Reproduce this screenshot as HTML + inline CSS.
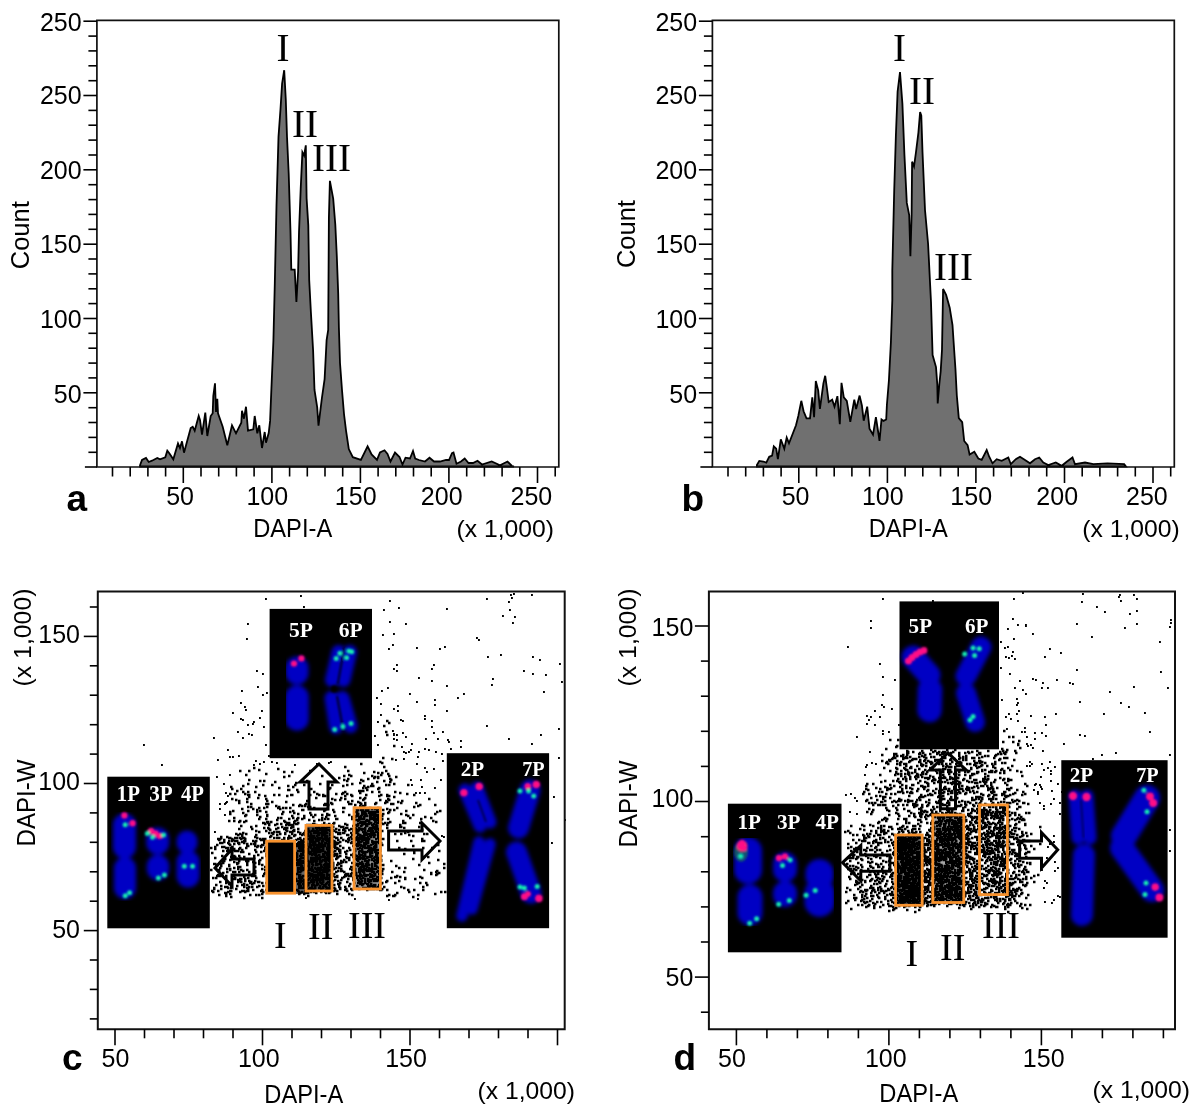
<!DOCTYPE html>
<html><head><meta charset="utf-8"><title>Figure</title>
<style>html,body{margin:0;padding:0;background:#fff;} svg{display:block;}</style></head>
<body><svg width="1200" height="1115" viewBox="0 0 1200 1115">
<rect width="1200" height="1115" fill="#fff"/>
<path d="M140 466.5 L140 465.3 L142 460 L146 458 L148.7 462 L152 460.7 L157.3 458 L160 459.3 L165.3 457.3 L167.3 450.7 L169.3 453.3 L173.3 459.3 L178 443.3 L180 448 L182 441.3 L184 452.7 L190.7 428 L192.7 426.7 L194.7 430.7 L198.7 416 L200 420 L202 434.7 L205.3 412.7 L207.3 436 L210.7 416 L212.7 413.3 L213.3 396 L215 383.3 L216 412 L217.3 398.7 L218 413.3 L222.7 426.7 L227.3 445.3 L232 425.3 L236 433.3 L241.3 422.7 L242 410.7 L244 418.7 L246 406.7 L248 430.7 L253.3 429.3 L254.7 416 L257.3 433.3 L259.3 425.3 L262 448 L264.7 432 L266 442.7 L268.7 433 L270.1 420.9 L271.4 388.6 L273.4 340.8 L274.8 283.4 L276.5 205 L278.5 136.8 L280.5 109 L282.1 83.7 L284.2 70.2 L285.8 99.8 L287 136.8 L288.7 173.5 L290.5 232.3 L291.3 269.7 L294.7 269.7 L296.4 302 L298.1 271.5 L299 232.3 L300.7 188.8 L302.4 152.2 L304.1 155.6 L305.8 145.3 L306.6 198.2 L308.3 225.4 L309.2 280 L310.9 312.4 L313.1 350.3 L314.5 390 L317.2 407.4 L318.5 425.6 L321.9 398 L324.6 379.2 L326.6 340.2 L328.2 330 L328.9 217.3 L329.9 180.8 L333.2 198.7 L335.3 224.5 L336.8 256 L338.2 293.4 L338.9 327.8 L340 363 L342 390 L344 414 L346 430.3 L348.8 449.1 L352.8 457.2 L360.9 459.9 L367.6 446.4 L371.6 454.5 L377 459.9 L380 452.5 L384.5 450.3 L387.5 454 L390.5 461.5 L395 452.5 L399.5 457 L402.5 464.5 L405.5 457.7 L410 458.5 L413 451 L415.2 458.5 L419 460 L425 461.5 L429.5 457.7 L434 461.5 L440 461.5 L446 460 L449 460 L452 453.2 L453.5 452.5 L456.5 463.7 L461 461.5 L464.7 458.5 L468.5 463 L473 463 L477.5 460.7 L482 464.5 L491.7 461.5 L500 465.2 L507.5 461.5 L512 466 L514 466.5 Z" fill="#707070" stroke="#000" stroke-width="1.8" stroke-linejoin="miter"/>
<path d="M96.9 20.3 H558.8 V467 H96.9 Z" fill="none" stroke="#111" stroke-width="1.7"/>
<line x1="83.4" y1="21.2" x2="96.9" y2="21.2" stroke="#000" stroke-width="1.6"/>
<line x1="88.4" y1="36.1" x2="96.9" y2="36.1" stroke="#000" stroke-width="1.6"/>
<line x1="88.4" y1="50.9" x2="96.9" y2="50.9" stroke="#000" stroke-width="1.6"/>
<line x1="88.4" y1="65.8" x2="96.9" y2="65.8" stroke="#000" stroke-width="1.6"/>
<line x1="88.4" y1="80.7" x2="96.9" y2="80.7" stroke="#000" stroke-width="1.6"/>
<line x1="83.4" y1="95.5" x2="96.9" y2="95.5" stroke="#000" stroke-width="1.6"/>
<line x1="88.4" y1="110.4" x2="96.9" y2="110.4" stroke="#000" stroke-width="1.6"/>
<line x1="88.4" y1="125.2" x2="96.9" y2="125.2" stroke="#000" stroke-width="1.6"/>
<line x1="88.4" y1="140.1" x2="96.9" y2="140.1" stroke="#000" stroke-width="1.6"/>
<line x1="88.4" y1="155" x2="96.9" y2="155" stroke="#000" stroke-width="1.6"/>
<line x1="83.4" y1="169.8" x2="96.9" y2="169.8" stroke="#000" stroke-width="1.6"/>
<line x1="88.4" y1="184.7" x2="96.9" y2="184.7" stroke="#000" stroke-width="1.6"/>
<line x1="88.4" y1="199.6" x2="96.9" y2="199.6" stroke="#000" stroke-width="1.6"/>
<line x1="88.4" y1="214.4" x2="96.9" y2="214.4" stroke="#000" stroke-width="1.6"/>
<line x1="88.4" y1="229.3" x2="96.9" y2="229.3" stroke="#000" stroke-width="1.6"/>
<line x1="83.4" y1="244.2" x2="96.9" y2="244.2" stroke="#000" stroke-width="1.6"/>
<line x1="88.4" y1="259" x2="96.9" y2="259" stroke="#000" stroke-width="1.6"/>
<line x1="88.4" y1="273.9" x2="96.9" y2="273.9" stroke="#000" stroke-width="1.6"/>
<line x1="88.4" y1="288.8" x2="96.9" y2="288.8" stroke="#000" stroke-width="1.6"/>
<line x1="88.4" y1="303.6" x2="96.9" y2="303.6" stroke="#000" stroke-width="1.6"/>
<line x1="83.4" y1="318.5" x2="96.9" y2="318.5" stroke="#000" stroke-width="1.6"/>
<line x1="88.4" y1="333.3" x2="96.9" y2="333.3" stroke="#000" stroke-width="1.6"/>
<line x1="88.4" y1="348.2" x2="96.9" y2="348.2" stroke="#000" stroke-width="1.6"/>
<line x1="88.4" y1="363.1" x2="96.9" y2="363.1" stroke="#000" stroke-width="1.6"/>
<line x1="88.4" y1="377.9" x2="96.9" y2="377.9" stroke="#000" stroke-width="1.6"/>
<line x1="83.4" y1="392.8" x2="96.9" y2="392.8" stroke="#000" stroke-width="1.6"/>
<line x1="88.4" y1="407.7" x2="96.9" y2="407.7" stroke="#000" stroke-width="1.6"/>
<line x1="88.4" y1="422.5" x2="96.9" y2="422.5" stroke="#000" stroke-width="1.6"/>
<line x1="88.4" y1="437.4" x2="96.9" y2="437.4" stroke="#000" stroke-width="1.6"/>
<line x1="88.4" y1="452.3" x2="96.9" y2="452.3" stroke="#000" stroke-width="1.6"/>
<line x1="112.5" y1="467" x2="112.5" y2="476.5" stroke="#000" stroke-width="1.6"/>
<line x1="130.2" y1="467" x2="130.2" y2="476.5" stroke="#000" stroke-width="1.6"/>
<line x1="147.9" y1="467" x2="147.9" y2="476.5" stroke="#000" stroke-width="1.6"/>
<line x1="165.6" y1="467" x2="165.6" y2="476.5" stroke="#000" stroke-width="1.6"/>
<line x1="183.3" y1="467" x2="183.3" y2="483" stroke="#000" stroke-width="1.6"/>
<line x1="201" y1="467" x2="201" y2="476.5" stroke="#000" stroke-width="1.6"/>
<line x1="218.7" y1="467" x2="218.7" y2="476.5" stroke="#000" stroke-width="1.6"/>
<line x1="236.4" y1="467" x2="236.4" y2="476.5" stroke="#000" stroke-width="1.6"/>
<line x1="254.1" y1="467" x2="254.1" y2="476.5" stroke="#000" stroke-width="1.6"/>
<line x1="271.9" y1="467" x2="271.9" y2="483" stroke="#000" stroke-width="1.6"/>
<line x1="289.6" y1="467" x2="289.6" y2="476.5" stroke="#000" stroke-width="1.6"/>
<line x1="307.3" y1="467" x2="307.3" y2="476.5" stroke="#000" stroke-width="1.6"/>
<line x1="325" y1="467" x2="325" y2="476.5" stroke="#000" stroke-width="1.6"/>
<line x1="342.7" y1="467" x2="342.7" y2="476.5" stroke="#000" stroke-width="1.6"/>
<line x1="360.4" y1="467" x2="360.4" y2="483" stroke="#000" stroke-width="1.6"/>
<line x1="378.1" y1="467" x2="378.1" y2="476.5" stroke="#000" stroke-width="1.6"/>
<line x1="395.8" y1="467" x2="395.8" y2="476.5" stroke="#000" stroke-width="1.6"/>
<line x1="413.5" y1="467" x2="413.5" y2="476.5" stroke="#000" stroke-width="1.6"/>
<line x1="431.2" y1="467" x2="431.2" y2="476.5" stroke="#000" stroke-width="1.6"/>
<line x1="448.9" y1="467" x2="448.9" y2="483" stroke="#000" stroke-width="1.6"/>
<line x1="466.7" y1="467" x2="466.7" y2="476.5" stroke="#000" stroke-width="1.6"/>
<line x1="484.4" y1="467" x2="484.4" y2="476.5" stroke="#000" stroke-width="1.6"/>
<line x1="502.1" y1="467" x2="502.1" y2="476.5" stroke="#000" stroke-width="1.6"/>
<line x1="519.8" y1="467" x2="519.8" y2="476.5" stroke="#000" stroke-width="1.6"/>
<line x1="537.5" y1="467" x2="537.5" y2="483" stroke="#000" stroke-width="1.6"/>
<line x1="555.2" y1="467" x2="555.2" y2="476.5" stroke="#000" stroke-width="1.6"/>
<line x1="84.9" y1="467" x2="96.9" y2="467" stroke="#000" stroke-width="1.6"/>
<text x="81.6" y="31.4" font-family="'Liberation Sans', Arial, sans-serif" font-size="25" font-weight="normal" fill="#000" text-anchor="end" >250</text>
<text x="81.6" y="104.4" font-family="'Liberation Sans', Arial, sans-serif" font-size="25" font-weight="normal" fill="#000" text-anchor="end" >250</text>
<text x="81.6" y="178.8" font-family="'Liberation Sans', Arial, sans-serif" font-size="25" font-weight="normal" fill="#000" text-anchor="end" >200</text>
<text x="81.6" y="253.2" font-family="'Liberation Sans', Arial, sans-serif" font-size="25" font-weight="normal" fill="#000" text-anchor="end" >150</text>
<text x="81.6" y="328" font-family="'Liberation Sans', Arial, sans-serif" font-size="25" font-weight="normal" fill="#000" text-anchor="end" >100</text>
<text x="81.6" y="403" font-family="'Liberation Sans', Arial, sans-serif" font-size="25" font-weight="normal" fill="#000" text-anchor="end" >50</text>
<text x="180.1" y="505.4" font-family="'Liberation Sans', Arial, sans-serif" font-size="25" font-weight="normal" fill="#000" text-anchor="middle" >50</text>
<text x="267.3" y="505.4" font-family="'Liberation Sans', Arial, sans-serif" font-size="25" font-weight="normal" fill="#000" text-anchor="middle" >100</text>
<text x="355.7" y="505.4" font-family="'Liberation Sans', Arial, sans-serif" font-size="25" font-weight="normal" fill="#000" text-anchor="middle" >150</text>
<text x="441.7" y="505.4" font-family="'Liberation Sans', Arial, sans-serif" font-size="25" font-weight="normal" fill="#000" text-anchor="middle" >200</text>
<text x="531.4" y="505.4" font-family="'Liberation Sans', Arial, sans-serif" font-size="25" font-weight="normal" fill="#000" text-anchor="middle" >250</text>
<text x="253.2" y="537.1" font-family="'Liberation Sans', Arial, sans-serif" font-size="25" font-weight="normal" fill="#000" text-anchor="start" textLength="79" lengthAdjust="spacingAndGlyphs">DAPI-A</text>
<text x="456.5" y="536.9" font-family="'Liberation Sans', Arial, sans-serif" font-size="24" font-weight="normal" fill="#000" text-anchor="start" textLength="97.5" lengthAdjust="spacingAndGlyphs">(x 1,000)</text>
<text transform="translate(29.3 269.2) rotate(-90)" font-family="'Liberation Sans', Arial, sans-serif" font-size="25.5" text-anchor="start" textLength="68" lengthAdjust="spacingAndGlyphs">Count</text>
<text x="276.5" y="61" font-family="'Liberation Serif', 'Times New Roman', serif" font-size="39" font-weight="normal" fill="#000" text-anchor="start" >I</text>
<text x="292" y="137.2" font-family="'Liberation Serif', 'Times New Roman', serif" font-size="39" font-weight="normal" fill="#000" text-anchor="start" >II</text>
<text x="312" y="171.3" font-family="'Liberation Serif', 'Times New Roman', serif" font-size="39" font-weight="normal" fill="#000" text-anchor="start" >III</text>
<text x="66.5" y="510.6" font-family="'Liberation Sans', Arial, sans-serif" font-size="37" font-weight="bold" fill="#000" text-anchor="start" >a</text>
<path d="M756.9 466.5 L756.9 465 L759.3 460.9 L763.3 461.5 L766.3 462.7 L769.2 456.8 L772.1 455.7 L773.8 446.3 L776.2 448.7 L777.9 459.2 L780.8 439.3 L784.3 448.7 L786.7 437.6 L789 443.4 L796 425.3 L798.3 416 L801.3 400.8 L803.6 411.3 L806.5 418.3 L810 418.3 L812.3 397.3 L814.1 417.2 L815.8 381 L818.2 390.3 L819.9 409 L823.4 383.3 L825.2 375.8 L826.9 388 L828.7 402 L832.2 399.7 L834.5 406.7 L837.4 396.2 L839.8 424.2 L841.5 382.8 L843.8 397.3 L846.8 400.8 L850.3 421.8 L854.3 399.7 L856.1 409 L859.6 395.6 L861.9 405.5 L863.7 420.7 L867.2 406.7 L869.5 428.8 L873 434.7 L875.9 417.2 L878.8 435.8 L879.5 441 L881.5 419.5 L883.5 420.9 L886.2 419.5 L886.9 404.7 L888.9 380.5 L890.9 342.2 L892.3 300 L892.3 270.7 L894.2 190.7 L895.9 135 L897.6 91.5 L900 72.1 L902.4 103.6 L904.4 154.4 L906.8 202.9 L909.2 215 L910.4 256.1 L911.6 215 L912.1 161.7 L914 166.5 L916 152 L918.4 132.6 L920.1 112 L921.3 115.7 L922.5 152 L925 210 L928.1 244 L931 302 L932.6 355 L936 367.1 L937.3 384.5 L937.7 403.4 L939.3 384.5 L940.7 371.1 L942 349.6 L943.1 289 L946.1 294.8 L949.7 307.7 L952.5 325 L953.5 340.2 L955.5 369.8 L956.8 395.3 L958.8 418.2 L962.2 422.2 L964.2 441 L967.6 445.1 L969.6 454.5 L974.3 451.8 L978.3 458.5 L981.7 459.9 L986.7 450 L989.2 456.7 L992.5 463.3 L996.7 459.2 L1001.7 460.8 L1008.3 457.5 L1010.8 464.2 L1015.8 459.2 L1020 456.7 L1025 460 L1030 463.3 L1035 459.2 L1039.2 457.5 L1043.3 462.5 L1048.3 465 L1055.8 462.5 L1061.7 465.8 L1066.7 461.7 L1072.5 457.5 L1075 464.2 L1085 462.5 L1093.3 464.2 L1107.5 463.3 L1124.2 464.2 L1126 466.5 Z" fill="#707070" stroke="#000" stroke-width="1.8" stroke-linejoin="miter"/>
<path d="M712.4 20.3 H1174.3 V467 H712.4 Z" fill="none" stroke="#111" stroke-width="1.7"/>
<line x1="698.9" y1="21.2" x2="712.4" y2="21.2" stroke="#000" stroke-width="1.6"/>
<line x1="703.9" y1="36.1" x2="712.4" y2="36.1" stroke="#000" stroke-width="1.6"/>
<line x1="703.9" y1="50.9" x2="712.4" y2="50.9" stroke="#000" stroke-width="1.6"/>
<line x1="703.9" y1="65.8" x2="712.4" y2="65.8" stroke="#000" stroke-width="1.6"/>
<line x1="703.9" y1="80.7" x2="712.4" y2="80.7" stroke="#000" stroke-width="1.6"/>
<line x1="698.9" y1="95.5" x2="712.4" y2="95.5" stroke="#000" stroke-width="1.6"/>
<line x1="703.9" y1="110.4" x2="712.4" y2="110.4" stroke="#000" stroke-width="1.6"/>
<line x1="703.9" y1="125.2" x2="712.4" y2="125.2" stroke="#000" stroke-width="1.6"/>
<line x1="703.9" y1="140.1" x2="712.4" y2="140.1" stroke="#000" stroke-width="1.6"/>
<line x1="703.9" y1="155" x2="712.4" y2="155" stroke="#000" stroke-width="1.6"/>
<line x1="698.9" y1="169.8" x2="712.4" y2="169.8" stroke="#000" stroke-width="1.6"/>
<line x1="703.9" y1="184.7" x2="712.4" y2="184.7" stroke="#000" stroke-width="1.6"/>
<line x1="703.9" y1="199.6" x2="712.4" y2="199.6" stroke="#000" stroke-width="1.6"/>
<line x1="703.9" y1="214.4" x2="712.4" y2="214.4" stroke="#000" stroke-width="1.6"/>
<line x1="703.9" y1="229.3" x2="712.4" y2="229.3" stroke="#000" stroke-width="1.6"/>
<line x1="698.9" y1="244.2" x2="712.4" y2="244.2" stroke="#000" stroke-width="1.6"/>
<line x1="703.9" y1="259" x2="712.4" y2="259" stroke="#000" stroke-width="1.6"/>
<line x1="703.9" y1="273.9" x2="712.4" y2="273.9" stroke="#000" stroke-width="1.6"/>
<line x1="703.9" y1="288.8" x2="712.4" y2="288.8" stroke="#000" stroke-width="1.6"/>
<line x1="703.9" y1="303.6" x2="712.4" y2="303.6" stroke="#000" stroke-width="1.6"/>
<line x1="698.9" y1="318.5" x2="712.4" y2="318.5" stroke="#000" stroke-width="1.6"/>
<line x1="703.9" y1="333.3" x2="712.4" y2="333.3" stroke="#000" stroke-width="1.6"/>
<line x1="703.9" y1="348.2" x2="712.4" y2="348.2" stroke="#000" stroke-width="1.6"/>
<line x1="703.9" y1="363.1" x2="712.4" y2="363.1" stroke="#000" stroke-width="1.6"/>
<line x1="703.9" y1="377.9" x2="712.4" y2="377.9" stroke="#000" stroke-width="1.6"/>
<line x1="698.9" y1="392.8" x2="712.4" y2="392.8" stroke="#000" stroke-width="1.6"/>
<line x1="703.9" y1="407.7" x2="712.4" y2="407.7" stroke="#000" stroke-width="1.6"/>
<line x1="703.9" y1="422.5" x2="712.4" y2="422.5" stroke="#000" stroke-width="1.6"/>
<line x1="703.9" y1="437.4" x2="712.4" y2="437.4" stroke="#000" stroke-width="1.6"/>
<line x1="703.9" y1="452.3" x2="712.4" y2="452.3" stroke="#000" stroke-width="1.6"/>
<line x1="728" y1="467" x2="728" y2="476.5" stroke="#000" stroke-width="1.6"/>
<line x1="745.7" y1="467" x2="745.7" y2="476.5" stroke="#000" stroke-width="1.6"/>
<line x1="763.4" y1="467" x2="763.4" y2="476.5" stroke="#000" stroke-width="1.6"/>
<line x1="781.1" y1="467" x2="781.1" y2="476.5" stroke="#000" stroke-width="1.6"/>
<line x1="798.8" y1="467" x2="798.8" y2="483" stroke="#000" stroke-width="1.6"/>
<line x1="816.5" y1="467" x2="816.5" y2="476.5" stroke="#000" stroke-width="1.6"/>
<line x1="834.2" y1="467" x2="834.2" y2="476.5" stroke="#000" stroke-width="1.6"/>
<line x1="851.9" y1="467" x2="851.9" y2="476.5" stroke="#000" stroke-width="1.6"/>
<line x1="869.6" y1="467" x2="869.6" y2="476.5" stroke="#000" stroke-width="1.6"/>
<line x1="887.4" y1="467" x2="887.4" y2="483" stroke="#000" stroke-width="1.6"/>
<line x1="905.1" y1="467" x2="905.1" y2="476.5" stroke="#000" stroke-width="1.6"/>
<line x1="922.8" y1="467" x2="922.8" y2="476.5" stroke="#000" stroke-width="1.6"/>
<line x1="940.5" y1="467" x2="940.5" y2="476.5" stroke="#000" stroke-width="1.6"/>
<line x1="958.2" y1="467" x2="958.2" y2="476.5" stroke="#000" stroke-width="1.6"/>
<line x1="975.9" y1="467" x2="975.9" y2="483" stroke="#000" stroke-width="1.6"/>
<line x1="993.6" y1="467" x2="993.6" y2="476.5" stroke="#000" stroke-width="1.6"/>
<line x1="1011.3" y1="467" x2="1011.3" y2="476.5" stroke="#000" stroke-width="1.6"/>
<line x1="1029" y1="467" x2="1029" y2="476.5" stroke="#000" stroke-width="1.6"/>
<line x1="1046.7" y1="467" x2="1046.7" y2="476.5" stroke="#000" stroke-width="1.6"/>
<line x1="1064.5" y1="467" x2="1064.5" y2="483" stroke="#000" stroke-width="1.6"/>
<line x1="1082.2" y1="467" x2="1082.2" y2="476.5" stroke="#000" stroke-width="1.6"/>
<line x1="1099.9" y1="467" x2="1099.9" y2="476.5" stroke="#000" stroke-width="1.6"/>
<line x1="1117.6" y1="467" x2="1117.6" y2="476.5" stroke="#000" stroke-width="1.6"/>
<line x1="1135.3" y1="467" x2="1135.3" y2="476.5" stroke="#000" stroke-width="1.6"/>
<line x1="1153" y1="467" x2="1153" y2="483" stroke="#000" stroke-width="1.6"/>
<line x1="1170.7" y1="467" x2="1170.7" y2="476.5" stroke="#000" stroke-width="1.6"/>
<line x1="700.4" y1="467" x2="712.4" y2="467" stroke="#000" stroke-width="1.6"/>
<text x="697.1" y="31.4" font-family="'Liberation Sans', Arial, sans-serif" font-size="25" font-weight="normal" fill="#000" text-anchor="end" >250</text>
<text x="697.1" y="104.4" font-family="'Liberation Sans', Arial, sans-serif" font-size="25" font-weight="normal" fill="#000" text-anchor="end" >250</text>
<text x="697.1" y="178.8" font-family="'Liberation Sans', Arial, sans-serif" font-size="25" font-weight="normal" fill="#000" text-anchor="end" >200</text>
<text x="697.1" y="253.2" font-family="'Liberation Sans', Arial, sans-serif" font-size="25" font-weight="normal" fill="#000" text-anchor="end" >150</text>
<text x="697.1" y="328" font-family="'Liberation Sans', Arial, sans-serif" font-size="25" font-weight="normal" fill="#000" text-anchor="end" >100</text>
<text x="697.1" y="403" font-family="'Liberation Sans', Arial, sans-serif" font-size="25" font-weight="normal" fill="#000" text-anchor="end" >50</text>
<text x="795.6" y="505.4" font-family="'Liberation Sans', Arial, sans-serif" font-size="25" font-weight="normal" fill="#000" text-anchor="middle" >50</text>
<text x="882.8" y="505.4" font-family="'Liberation Sans', Arial, sans-serif" font-size="25" font-weight="normal" fill="#000" text-anchor="middle" >100</text>
<text x="971.2" y="505.4" font-family="'Liberation Sans', Arial, sans-serif" font-size="25" font-weight="normal" fill="#000" text-anchor="middle" >150</text>
<text x="1057.2" y="505.4" font-family="'Liberation Sans', Arial, sans-serif" font-size="25" font-weight="normal" fill="#000" text-anchor="middle" >200</text>
<text x="1146.9" y="505.4" font-family="'Liberation Sans', Arial, sans-serif" font-size="25" font-weight="normal" fill="#000" text-anchor="middle" >250</text>
<text x="868.7" y="537.1" font-family="'Liberation Sans', Arial, sans-serif" font-size="25" font-weight="normal" fill="#000" text-anchor="start" textLength="79" lengthAdjust="spacingAndGlyphs">DAPI-A</text>
<text x="1082.3" y="536.9" font-family="'Liberation Sans', Arial, sans-serif" font-size="24" font-weight="normal" fill="#000" text-anchor="start" textLength="97.5" lengthAdjust="spacingAndGlyphs">(x 1,000)</text>
<text transform="translate(634.6 268.1) rotate(-90)" font-family="'Liberation Sans', Arial, sans-serif" font-size="25.5" text-anchor="start" textLength="68" lengthAdjust="spacingAndGlyphs">Count</text>
<text x="893.1" y="61.2" font-family="'Liberation Serif', 'Times New Roman', serif" font-size="39" font-weight="normal" fill="#000" text-anchor="start" >I</text>
<text x="909" y="104.4" font-family="'Liberation Serif', 'Times New Roman', serif" font-size="39" font-weight="normal" fill="#000" text-anchor="start" >II</text>
<text x="934" y="279.8" font-family="'Liberation Serif', 'Times New Roman', serif" font-size="39" font-weight="normal" fill="#000" text-anchor="start" >III</text>
<text x="681.5" y="510.6" font-family="'Liberation Sans', Arial, sans-serif" font-size="37" font-weight="bold" fill="#000" text-anchor="start" >b</text>
<defs><filter id="bl" x="-20%" y="-20%" width="140%" height="140%"><feGaussianBlur stdDeviation="2.1"/></filter><filter id="bs" x="-50%" y="-50%" width="200%" height="200%"><feGaussianBlur stdDeviation="1.1"/></filter></defs>
<rect x="266" y="841" width="30" height="53" fill="#000"/>
<rect x="296" y="846" width="9" height="48" fill="#000" opacity="0.6"/>
<rect x="306" y="826" width="26" height="65" fill="#000" opacity="0.7"/>
<rect x="355" y="809" width="25" height="80" fill="#000" opacity="0.4"/>
<path d="M510 595h1.9M513 594h1.9M300 596h1.9M531 595h1.9M511 598h1.9M265 599h1.9M486 599h1.9M389 601h1.9M508 602h1.9M303 607h1.9M398 608h1.9M383 610h1.9M446 609h1.9M509 610h1.9M502 616h1.9M514 617h1.9M389 622h1.9M247 624h1.9M512 623h1.9M405 624h1.9M393 634h1.9M382 635h1.9M246 639h1.9M476 638h1.9M478 640h1.9M392 645h1.9M416 648h1.9M444 647h1.9M388 649h1.9M439 649h1.9M500 655h1.9M532 657h1.9M487 657h1.9M539 660h1.9M396 665h1.9M559 664h1.9M433 665h1.9M393 669h1.9M431 669h1.9M396 671h1.9M523 671h1.9M256 671h1.9M262 674h1.9M532 674h1.9M545 675h1.9M418 678h1.9M492 679h1.9M431 681h1.9M561 682h1.9M446 686h1.9M491 685h1.9M257 687h1.9M387 688h1.9M381 691h1.9M241 691h1.9M543 692h1.9M266 693h1.9M262 695h1.9M409 694h1.9M463 694h1.9M376 698h1.9M457 698h1.9M434 700h1.9M416 702h1.9M240 703h1.9M380 704h1.9M434 705h1.9M397 706h1.9M244 707h1.9M393 709h1.9M245 710h1.9M261 711h1.9M397 711h1.9M446 711h1.9M232 713h1.9M380 715h1.9M424 716h1.9M259 718h1.9M240 719h1.9M424 719h1.9M242 720h1.9M400 720h1.9M431 721h1.9M253 722h1.9M402 721h1.9M377 722h1.9M252 724h1.9M247 725h1.9M431 727h1.9M486 726h1.9M263 727h1.9M558 729h1.9M392 731h1.9M442 732h1.9M237 732h1.9M402 733h1.9M393 734h1.9M433 733h1.9M248 734h1.9M393 735h1.9M396 735h1.9M251 735h1.9M374 736h1.9M540 735h1.9M405 737h1.9M213 738h1.9M242 738h1.9M393 739h1.9M508 739h1.9M425 739h1.9M437 739h1.9M396 740h1.9M447 740h1.9M460 741h1.9M448 742h1.9M411 744h1.9M531 744h1.9M143 745h1.9M265 745h1.9M377 745h1.9M460 747h1.9M401 747h1.9M424 749h1.9M450 749h1.9M410 750h1.9M428 750h1.9M227 750h1.9M418 752h1.9M403 752h1.9M408 752h1.9M435 752h1.9M405 753h1.9M441 754h1.9M238 756h1.9M268 756h1.9M232 757h1.9M229 757h1.9M417 757h1.9M558 758h1.9M395 760h1.9M403 759h1.9M217 760h1.9M255 761h1.9M263 762h1.9M271 762h1.9M442 761h1.9M328 763h1.9M330 762h1.9M259 764h1.9M276 763h1.9M316 764h1.9M416 764h1.9M161 765h1.9M253 765h1.9M294 765h1.9M424 768h1.9M433 769h1.9M426 772h1.9M229 775h1.9M216 777h1.9M420 780h1.9M440 780h1.9M410 780h1.9M223 784h1.9M411 785h1.9M421 787h1.9M434 788h1.9M434 788h1.9M225 793h1.9M415 793h1.9M419 793h1.9M424 793h1.9M227 796h1.9M553 797h1.9M226 802h1.9M225 803h1.9M219 804h1.9M224 804h1.9M219 809h1.9M224 815h1.9M564 820h1.9M214 832h1.9M441 836h1.9M443 837h1.9M551 843h1.9M274 853h1.9M277 853h1.9M274 854h1.9M270 875h1.9M271 886h1.9M289 886h1.9M270 891h1.9M305 898h1.9M354 899h1.9M388 900h1.9M417 899h1.9" stroke="#000" stroke-width="1.9" fill="none"/><path d="M386 721h2.5M388 723h2.5M383 726h2.5M385 732h2.5M386 735h2.5M393 746h2.5M382 758h2.5M391 759h2.5M379 762h2.5M381 763h2.5M360 764h2.5M383 767h2.5M253 768h2.5M344 767h2.5M277 769h2.5M258 770h2.5M347 771h2.5M385 771h2.5M239 771h2.5M248 771h2.5M291 772h2.5M309 771h2.5M373 772h2.5M283 772h2.5M363 773h2.5M377 773h2.5M381 773h2.5M387 774h2.5M245 775h2.5M265 774h2.5M288 776h2.5M343 776h2.5M348 775h2.5M371 776h2.5M380 775h2.5M321 776h2.5M350 776h2.5M388 776h2.5M395 777h2.5M283 777h2.5M338 778h2.5M373 778h2.5M374 777h2.5M377 777h2.5M377 778h2.5M367 779h2.5M389 779h2.5M343 780h2.5M347 779h2.5M248 780h2.5M360 780h2.5M362 781h2.5M390 780h2.5M259 781h2.5M263 781h2.5M306 781h2.5M346 781h2.5M383 781h2.5M389 782h2.5M274 782h2.5M295 783h2.5M376 782h2.5M359 783h2.5M371 784h2.5M247 784h2.5M271 785h2.5M319 784h2.5M327 784h2.5M331 785h2.5M346 785h2.5M351 784h2.5M393 784h2.5M242 786h2.5M262 785h2.5M294 785h2.5M303 785h2.5M342 786h2.5M372 786h2.5M385 785h2.5M388 785h2.5M407 785h2.5M230 787h2.5M255 787h2.5M287 786h2.5M292 787h2.5M363 786h2.5M367 787h2.5M370 786h2.5M329 788h2.5M362 788h2.5M231 789h2.5M240 789h2.5M278 788h2.5M310 789h2.5M328 789h2.5M365 788h2.5M378 788h2.5M296 790h2.5M377 789h2.5M287 790h2.5M288 790h2.5M358 791h2.5M360 791h2.5M362 791h2.5M366 790h2.5M236 791h2.5M242 792h2.5M247 792h2.5M254 792h2.5M297 792h2.5M358 791h2.5M394 792h2.5M313 792h2.5M342 793h2.5M344 792h2.5M359 793h2.5M371 792h2.5M378 792h2.5M399 793h2.5M234 794h2.5M346 794h2.5M406 794h2.5M229 794h2.5M244 794h2.5M248 795h2.5M258 795h2.5M278 795h2.5M291 795h2.5M316 794h2.5M335 794h2.5M341 794h2.5M350 795h2.5M365 795h2.5M413 795h2.5M247 795h2.5M264 796h2.5M273 795h2.5M290 795h2.5M309 795h2.5M318 795h2.5M322 795h2.5M324 796h2.5M344 796h2.5M380 795h2.5M386 795h2.5M286 796h2.5M322 796h2.5M324 796h2.5M351 796h2.5M378 796h2.5M386 796h2.5M388 796h2.5M393 797h2.5M248 797h2.5M257 798h2.5M315 798h2.5M340 798h2.5M359 798h2.5M331 799h2.5M364 798h2.5M387 799h2.5M428 799h2.5M231 799h2.5M246 799h2.5M265 799h2.5M334 800h2.5M344 799h2.5M362 800h2.5M363 799h2.5M388 800h2.5M235 800h2.5M238 801h2.5M306 801h2.5M334 800h2.5M339 800h2.5M379 800h2.5M385 801h2.5M401 801h2.5M266 801h2.5M285 802h2.5M347 802h2.5M351 801h2.5M357 802h2.5M238 803h2.5M246 802h2.5M271 802h2.5M359 803h2.5M364 803h2.5M375 803h2.5M386 802h2.5M397 802h2.5M400 803h2.5M250 804h2.5M265 804h2.5M305 804h2.5M324 804h2.5M326 804h2.5M330 803h2.5M331 804h2.5M348 804h2.5M360 804h2.5M384 803h2.5M390 804h2.5M415 803h2.5M267 804h2.5M299 805h2.5M304 805h2.5M350 804h2.5M374 804h2.5M392 804h2.5M275 806h2.5M275 806h2.5M292 805h2.5M304 806h2.5M323 805h2.5M325 805h2.5M327 805h2.5M354 805h2.5M364 805h2.5M417 806h2.5M419 805h2.5M434 805h2.5M247 807h2.5M266 807h2.5M298 806h2.5M301 806h2.5M307 807h2.5M309 807h2.5M359 806h2.5M362 807h2.5M362 806h2.5M363 807h2.5M250 807h2.5M263 808h2.5M278 808h2.5M278 807h2.5M282 808h2.5M289 808h2.5M313 808h2.5M343 808h2.5M353 808h2.5M360 807h2.5M413 807h2.5M258 808h2.5M277 808h2.5M285 808h2.5M308 808h2.5M342 808h2.5M356 809h2.5M360 809h2.5M365 809h2.5M369 808h2.5M371 809h2.5M374 809h2.5M377 808h2.5M386 809h2.5M396 808h2.5M241 809h2.5M252 809h2.5M279 809h2.5M301 810h2.5M324 810h2.5M326 809h2.5M353 809h2.5M357 810h2.5M362 809h2.5M365 809h2.5M367 810h2.5M371 809h2.5M376 809h2.5M377 809h2.5M377 809h2.5M393 810h2.5M256 810h2.5M302 810h2.5M332 810h2.5M360 810h2.5M362 810h2.5M365 811h2.5M367 811h2.5M376 811h2.5M382 810h2.5M389 810h2.5M439 811h2.5M229 812h2.5M232 811h2.5M247 811h2.5M259 811h2.5M265 812h2.5M282 812h2.5M289 812h2.5M292 811h2.5M323 811h2.5M342 812h2.5M355 812h2.5M356 811h2.5M361 812h2.5M363 812h2.5M364 812h2.5M369 812h2.5M371 812h2.5M373 812h2.5M374 812h2.5M376 812h2.5M377 812h2.5M405 811h2.5M436 812h2.5M256 812h2.5M293 813h2.5M333 812h2.5M356 812h2.5M368 812h2.5M368 813h2.5M369 812h2.5M372 813h2.5M374 812h2.5M375 812h2.5M378 812h2.5M388 812h2.5M229 814h2.5M242 813h2.5M309 813h2.5M356 814h2.5M361 814h2.5M363 814h2.5M368 813h2.5M369 814h2.5M370 813h2.5M374 814h2.5M382 814h2.5M387 813h2.5M400 814h2.5M434 814h2.5M245 815h2.5M256 815h2.5M266 815h2.5M281 814h2.5M297 814h2.5M310 815h2.5M326 814h2.5M348 815h2.5M356 814h2.5M357 814h2.5M357 815h2.5M361 815h2.5M365 814h2.5M370 815h2.5M374 814h2.5M376 815h2.5M378 815h2.5M405 815h2.5M291 816h2.5M314 815h2.5M321 815h2.5M326 815h2.5M328 815h2.5M354 816h2.5M360 816h2.5M364 816h2.5M366 816h2.5M372 815h2.5M375 815h2.5M379 815h2.5M381 816h2.5M412 815h2.5M244 816h2.5M259 817h2.5M266 816h2.5M303 816h2.5M312 817h2.5M334 816h2.5M356 816h2.5M369 816h2.5M370 817h2.5M374 816h2.5M375 816h2.5M377 817h2.5M381 816h2.5M407 816h2.5M424 817h2.5M277 818h2.5M280 818h2.5M292 818h2.5M325 817h2.5M351 817h2.5M354 817h2.5M358 817h2.5M358 817h2.5M360 818h2.5M363 817h2.5M369 817h2.5M371 818h2.5M372 818h2.5M373 817h2.5M374 817h2.5M378 817h2.5M379 817h2.5M409 818h2.5M233 818h2.5M265 819h2.5M288 819h2.5M297 818h2.5M303 818h2.5M321 818h2.5M324 819h2.5M327 819h2.5M335 819h2.5M336 819h2.5M351 819h2.5M358 818h2.5M360 818h2.5M369 818h2.5M371 819h2.5M372 818h2.5M374 818h2.5M377 818h2.5M387 819h2.5M430 818h2.5M258 819h2.5M288 819h2.5M296 819h2.5M296 820h2.5M301 819h2.5M318 820h2.5M324 819h2.5M355 820h2.5M357 820h2.5M360 819h2.5M361 819h2.5M363 819h2.5M366 820h2.5M369 819h2.5M371 819h2.5M376 819h2.5M376 820h2.5M381 819h2.5M420 819h2.5M239 821h2.5M276 820h2.5M308 820h2.5M313 821h2.5M321 820h2.5M358 820h2.5M366 821h2.5M366 820h2.5M368 821h2.5M373 820h2.5M374 820h2.5M378 820h2.5M380 820h2.5M432 821h2.5M228 821h2.5M233 821h2.5M243 822h2.5M245 821h2.5M267 822h2.5M283 821h2.5M284 822h2.5M293 822h2.5M294 821h2.5M357 821h2.5M361 822h2.5M363 822h2.5M365 821h2.5M375 822h2.5M378 822h2.5M402 821h2.5M435 822h2.5M238 822h2.5M262 823h2.5M266 822h2.5M270 822h2.5M286 823h2.5M288 823h2.5M297 823h2.5M333 823h2.5M359 823h2.5M360 822h2.5M362 823h2.5M363 823h2.5M368 822h2.5M374 822h2.5M376 823h2.5M377 823h2.5M387 823h2.5M389 822h2.5M263 823h2.5M267 823h2.5M268 824h2.5M293 823h2.5M313 824h2.5M323 823h2.5M328 824h2.5M357 824h2.5M360 823h2.5M364 823h2.5M368 824h2.5M370 823h2.5M373 824h2.5M380 823h2.5M384 823h2.5M402 823h2.5M404 823h2.5M419 823h2.5M264 824h2.5M268 825h2.5M274 825h2.5M276 824h2.5M280 824h2.5M287 824h2.5M288 825h2.5M290 825h2.5M292 825h2.5M295 824h2.5M296 824h2.5M310 825h2.5M312 824h2.5M315 825h2.5M321 825h2.5M326 825h2.5M332 824h2.5M344 824h2.5M346 825h2.5M355 825h2.5M361 825h2.5M363 824h2.5M364 824h2.5M366 824h2.5M367 824h2.5M371 825h2.5M372 825h2.5M375 825h2.5M382 824h2.5M386 825h2.5M285 825h2.5M292 825h2.5M306 825h2.5M308 825h2.5M312 825h2.5M322 826h2.5M338 826h2.5M356 826h2.5M357 825h2.5M360 826h2.5M365 825h2.5M366 826h2.5M376 826h2.5M379 826h2.5M399 825h2.5M240 826h2.5M255 826h2.5M281 827h2.5M292 827h2.5M318 827h2.5M326 827h2.5M328 827h2.5M331 827h2.5M332 827h2.5M342 827h2.5M352 826h2.5M365 826h2.5M372 827h2.5M374 827h2.5M400 827h2.5M418 827h2.5M250 827h2.5M263 828h2.5M267 828h2.5M284 828h2.5M286 828h2.5M290 828h2.5M291 827h2.5M315 828h2.5M316 828h2.5M321 827h2.5M323 828h2.5M325 828h2.5M340 827h2.5M345 828h2.5M358 828h2.5M364 828h2.5M371 828h2.5M372 828h2.5M376 828h2.5M399 827h2.5M403 828h2.5M251 829h2.5M275 829h2.5M277 828h2.5M283 829h2.5M297 829h2.5M306 829h2.5M318 828h2.5M320 829h2.5M321 829h2.5M323 829h2.5M324 828h2.5M335 829h2.5M346 828h2.5M350 829h2.5M352 829h2.5M354 828h2.5M358 829h2.5M360 829h2.5M363 829h2.5M364 828h2.5M368 829h2.5M369 828h2.5M370 828h2.5M374 829h2.5M376 829h2.5M378 829h2.5M386 828h2.5M238 829h2.5M268 829h2.5M269 830h2.5M307 830h2.5M307 829h2.5M312 829h2.5M312 829h2.5M316 829h2.5M322 829h2.5M324 830h2.5M325 829h2.5M328 830h2.5M332 830h2.5M338 830h2.5M343 829h2.5M353 830h2.5M354 830h2.5M355 829h2.5M356 830h2.5M358 830h2.5M361 829h2.5M361 830h2.5M364 830h2.5M371 830h2.5M371 829h2.5M375 829h2.5M376 829h2.5M378 830h2.5M265 831h2.5M269 830h2.5M285 830h2.5M286 831h2.5M292 831h2.5M293 830h2.5M305 831h2.5M308 831h2.5M311 831h2.5M312 831h2.5M315 831h2.5M319 830h2.5M323 831h2.5M325 831h2.5M327 830h2.5M332 830h2.5M333 831h2.5M342 830h2.5M344 831h2.5M348 830h2.5M352 831h2.5M355 831h2.5M356 830h2.5M357 831h2.5M369 831h2.5M370 830h2.5M371 831h2.5M372 831h2.5M375 831h2.5M381 831h2.5M421 830h2.5M255 831h2.5M273 832h2.5M278 832h2.5M293 831h2.5M304 831h2.5M305 832h2.5M307 831h2.5M309 832h2.5M313 831h2.5M315 831h2.5M316 832h2.5M317 831h2.5M321 831h2.5M323 832h2.5M324 832h2.5M329 831h2.5M330 832h2.5M354 831h2.5M356 832h2.5M362 832h2.5M364 832h2.5M367 831h2.5M371 832h2.5M372 831h2.5M376 832h2.5M242 833h2.5M258 832h2.5M268 833h2.5M276 832h2.5M289 832h2.5M290 832h2.5M297 832h2.5M303 833h2.5M308 832h2.5M313 833h2.5M314 833h2.5M315 833h2.5M316 833h2.5M317 833h2.5M321 833h2.5M321 833h2.5M335 832h2.5M337 833h2.5M338 833h2.5M339 833h2.5M342 833h2.5M350 833h2.5M355 833h2.5M365 833h2.5M370 832h2.5M375 832h2.5M376 832h2.5M379 833h2.5M379 833h2.5M407 832h2.5M239 834h2.5M245 834h2.5M271 833h2.5M279 834h2.5M284 833h2.5M291 833h2.5M291 834h2.5M299 833h2.5M304 834h2.5M313 833h2.5M316 833h2.5M317 834h2.5M319 833h2.5M320 833h2.5M322 833h2.5M324 834h2.5M326 833h2.5M326 833h2.5M329 834h2.5M330 834h2.5M339 834h2.5M343 833h2.5M357 834h2.5M367 834h2.5M367 834h2.5M369 834h2.5M370 834h2.5M371 833h2.5M373 833h2.5M377 833h2.5M400 834h2.5M404 833h2.5M235 834h2.5M237 835h2.5M272 834h2.5M284 834h2.5M294 835h2.5M299 834h2.5M302 834h2.5M304 835h2.5M305 835h2.5M307 834h2.5M310 834h2.5M317 835h2.5M324 834h2.5M329 835h2.5M331 834h2.5M337 834h2.5M351 835h2.5M359 835h2.5M363 834h2.5M366 834h2.5M366 835h2.5M372 835h2.5M373 834h2.5M374 835h2.5M377 835h2.5M379 834h2.5M394 834h2.5M408 835h2.5M423 834h2.5M426 834h2.5M241 835h2.5M255 835h2.5M270 836h2.5M276 835h2.5M288 836h2.5M301 835h2.5M308 836h2.5M310 836h2.5M316 836h2.5M318 835h2.5M321 835h2.5M323 835h2.5M324 835h2.5M324 835h2.5M326 836h2.5M331 836h2.5M346 835h2.5M347 835h2.5M357 835h2.5M359 836h2.5M362 836h2.5M364 835h2.5M377 836h2.5M377 836h2.5M379 836h2.5M379 836h2.5M241 836h2.5M293 836h2.5M305 837h2.5M307 836h2.5M312 836h2.5M312 836h2.5M313 836h2.5M316 836h2.5M321 837h2.5M324 837h2.5M325 837h2.5M325 836h2.5M326 836h2.5M331 837h2.5M331 837h2.5M359 837h2.5M360 836h2.5M363 836h2.5M367 837h2.5M369 836h2.5M370 836h2.5M412 836h2.5M220 837h2.5M226 837h2.5M228 838h2.5M229 838h2.5M234 838h2.5M236 838h2.5M239 838h2.5M243 838h2.5M254 837h2.5M269 837h2.5M283 838h2.5M287 838h2.5M288 838h2.5M299 838h2.5M310 837h2.5M313 837h2.5M317 838h2.5M318 838h2.5M318 838h2.5M324 837h2.5M325 838h2.5M326 837h2.5M333 837h2.5M348 838h2.5M350 837h2.5M356 837h2.5M360 838h2.5M362 838h2.5M363 837h2.5M364 838h2.5M370 837h2.5M373 837h2.5M377 837h2.5M378 838h2.5M217 839h2.5M219 839h2.5M220 838h2.5M231 839h2.5M242 838h2.5M256 838h2.5M259 839h2.5M273 838h2.5M276 838h2.5M278 838h2.5M290 838h2.5M298 839h2.5M303 839h2.5M309 838h2.5M310 839h2.5M311 838h2.5M313 838h2.5M314 838h2.5M315 839h2.5M317 839h2.5M318 839h2.5M320 838h2.5M326 838h2.5M327 839h2.5M329 838h2.5M335 838h2.5M336 838h2.5M340 838h2.5M347 839h2.5M353 839h2.5M354 838h2.5M355 838h2.5M357 839h2.5M357 838h2.5M359 839h2.5M361 839h2.5M365 838h2.5M365 839h2.5M368 839h2.5M375 839h2.5M377 838h2.5M382 839h2.5M421 839h2.5M218 840h2.5M231 839h2.5M240 839h2.5M244 839h2.5M262 839h2.5M262 840h2.5M264 839h2.5M281 840h2.5M283 840h2.5M287 839h2.5M295 840h2.5M297 839h2.5M307 839h2.5M309 840h2.5M315 840h2.5M316 840h2.5M318 840h2.5M319 839h2.5M322 839h2.5M324 839h2.5M325 840h2.5M328 840h2.5M331 840h2.5M342 840h2.5M351 839h2.5M354 840h2.5M355 839h2.5M356 840h2.5M358 840h2.5M362 839h2.5M363 839h2.5M366 839h2.5M381 839h2.5M223 840h2.5M232 840h2.5M243 841h2.5M260 840h2.5M263 841h2.5M264 840h2.5M300 840h2.5M301 841h2.5M302 841h2.5M309 841h2.5M311 841h2.5M312 840h2.5M318 840h2.5M322 841h2.5M330 840h2.5M337 840h2.5M342 840h2.5M345 841h2.5M348 840h2.5M361 840h2.5M361 841h2.5M362 840h2.5M364 840h2.5M366 840h2.5M371 841h2.5M378 840h2.5M396 841h2.5M410 841h2.5M421 841h2.5M423 841h2.5M223 842h2.5M228 841h2.5M231 841h2.5M234 841h2.5M236 841h2.5M244 841h2.5M252 841h2.5M255 841h2.5M269 841h2.5M271 841h2.5M276 842h2.5M287 842h2.5M293 841h2.5M300 842h2.5M305 842h2.5M310 842h2.5M311 842h2.5M312 841h2.5M316 841h2.5M317 841h2.5M321 841h2.5M326 841h2.5M328 841h2.5M328 842h2.5M330 842h2.5M333 841h2.5M333 842h2.5M334 842h2.5M351 842h2.5M352 842h2.5M353 841h2.5M359 842h2.5M360 842h2.5M365 841h2.5M367 841h2.5M371 842h2.5M373 842h2.5M374 842h2.5M376 842h2.5M221 843h2.5M227 843h2.5M237 843h2.5M238 843h2.5M241 842h2.5M254 842h2.5M263 843h2.5M270 843h2.5M279 842h2.5M288 842h2.5M298 842h2.5M300 843h2.5M304 842h2.5M309 843h2.5M311 842h2.5M312 843h2.5M314 842h2.5M318 843h2.5M321 843h2.5M321 842h2.5M324 843h2.5M325 843h2.5M330 842h2.5M337 843h2.5M339 842h2.5M347 842h2.5M351 843h2.5M357 842h2.5M358 843h2.5M359 842h2.5M363 843h2.5M364 843h2.5M366 843h2.5M367 843h2.5M373 843h2.5M373 843h2.5M375 842h2.5M376 842h2.5M377 842h2.5M378 843h2.5M379 843h2.5M219 843h2.5M221 843h2.5M228 844h2.5M238 844h2.5M243 843h2.5M246 844h2.5M250 844h2.5M254 844h2.5M275 843h2.5M295 844h2.5M297 843h2.5M300 844h2.5M302 843h2.5M306 844h2.5M314 844h2.5M328 843h2.5M333 843h2.5M335 843h2.5M350 843h2.5M350 843h2.5M353 843h2.5M356 844h2.5M363 844h2.5M366 843h2.5M375 843h2.5M380 843h2.5M216 845h2.5M233 844h2.5M253 844h2.5M269 844h2.5M281 844h2.5M296 845h2.5M298 844h2.5M298 844h2.5M300 845h2.5M301 844h2.5M303 845h2.5M309 845h2.5M312 845h2.5M314 844h2.5M314 845h2.5M317 845h2.5M320 844h2.5M322 845h2.5M324 844h2.5M324 844h2.5M327 844h2.5M328 844h2.5M331 845h2.5M334 844h2.5M336 844h2.5M355 845h2.5M356 845h2.5M358 844h2.5M365 844h2.5M370 845h2.5M372 844h2.5M375 844h2.5M381 845h2.5M437 845h2.5M229 845h2.5M246 846h2.5M247 846h2.5M254 846h2.5M260 846h2.5M261 845h2.5M262 845h2.5M296 846h2.5M298 846h2.5M299 845h2.5M301 845h2.5M302 846h2.5M306 845h2.5M309 846h2.5M310 845h2.5M313 846h2.5M315 845h2.5M319 845h2.5M320 846h2.5M321 846h2.5M323 846h2.5M324 845h2.5M329 846h2.5M330 846h2.5M333 845h2.5M334 846h2.5M339 846h2.5M357 846h2.5M358 845h2.5M360 846h2.5M360 845h2.5M364 846h2.5M367 846h2.5M374 846h2.5M375 845h2.5M381 845h2.5M412 846h2.5M214 847h2.5M257 846h2.5M260 847h2.5M265 847h2.5M267 847h2.5M277 846h2.5M297 846h2.5M298 846h2.5M300 847h2.5M300 847h2.5M304 847h2.5M305 846h2.5M313 847h2.5M313 847h2.5M318 847h2.5M324 846h2.5M327 846h2.5M328 847h2.5M330 847h2.5M334 847h2.5M352 846h2.5M356 846h2.5M362 846h2.5M368 846h2.5M373 847h2.5M221 847h2.5M223 847h2.5M225 848h2.5M231 847h2.5M256 847h2.5M264 848h2.5M276 847h2.5M279 847h2.5M298 847h2.5M298 848h2.5M302 848h2.5M304 847h2.5M308 847h2.5M309 847h2.5M310 848h2.5M310 847h2.5M315 848h2.5M316 848h2.5M316 847h2.5M318 848h2.5M320 847h2.5M332 847h2.5M336 848h2.5M342 848h2.5M362 847h2.5M364 847h2.5M366 848h2.5M368 848h2.5M373 847h2.5M375 847h2.5M379 848h2.5M398 848h2.5M422 848h2.5M431 848h2.5M210 848h2.5M214 849h2.5M227 848h2.5M230 848h2.5M233 849h2.5M238 849h2.5M239 848h2.5M245 848h2.5M264 849h2.5M266 848h2.5M282 849h2.5M300 848h2.5M302 849h2.5M307 849h2.5M311 849h2.5M312 849h2.5M314 849h2.5M316 848h2.5M317 849h2.5M322 848h2.5M326 848h2.5M328 849h2.5M330 848h2.5M334 848h2.5M337 849h2.5M348 848h2.5M359 848h2.5M361 849h2.5M364 848h2.5M366 848h2.5M368 848h2.5M370 849h2.5M370 848h2.5M372 849h2.5M374 848h2.5M404 849h2.5M422 848h2.5M214 849h2.5M233 849h2.5M233 850h2.5M241 850h2.5M254 850h2.5M299 850h2.5M302 850h2.5M311 850h2.5M317 850h2.5M318 849h2.5M320 850h2.5M322 850h2.5M326 849h2.5M331 850h2.5M336 849h2.5M339 850h2.5M354 849h2.5M357 849h2.5M368 850h2.5M368 849h2.5M372 850h2.5M373 849h2.5M375 850h2.5M379 849h2.5M227 850h2.5M231 850h2.5M231 851h2.5M234 851h2.5M236 851h2.5M237 851h2.5M263 851h2.5M298 851h2.5M299 850h2.5M300 851h2.5M300 850h2.5M301 850h2.5M304 851h2.5M306 851h2.5M307 851h2.5M312 850h2.5M313 851h2.5M315 850h2.5M318 850h2.5M320 850h2.5M320 851h2.5M321 850h2.5M322 850h2.5M327 851h2.5M330 851h2.5M330 851h2.5M339 851h2.5M346 851h2.5M349 850h2.5M354 851h2.5M359 851h2.5M361 851h2.5M370 850h2.5M374 851h2.5M375 851h2.5M377 850h2.5M379 851h2.5M413 851h2.5M222 851h2.5M226 851h2.5M228 851h2.5M297 851h2.5M302 851h2.5M307 852h2.5M309 852h2.5M310 852h2.5M311 851h2.5M313 852h2.5M314 852h2.5M314 851h2.5M318 852h2.5M320 851h2.5M322 851h2.5M324 852h2.5M328 851h2.5M329 852h2.5M332 852h2.5M334 851h2.5M338 851h2.5M346 851h2.5M353 852h2.5M354 851h2.5M359 851h2.5M363 852h2.5M365 852h2.5M367 851h2.5M371 851h2.5M374 852h2.5M438 851h2.5M240 852h2.5M242 852h2.5M255 852h2.5M260 852h2.5M295 853h2.5M302 853h2.5M304 852h2.5M306 852h2.5M315 853h2.5M316 852h2.5M319 852h2.5M324 853h2.5M326 853h2.5M330 852h2.5M331 853h2.5M344 852h2.5M358 852h2.5M361 852h2.5M366 852h2.5M369 852h2.5M371 853h2.5M374 852h2.5M375 853h2.5M376 853h2.5M211 853h2.5M265 854h2.5M296 854h2.5M300 854h2.5M306 854h2.5M307 853h2.5M311 854h2.5M314 853h2.5M326 854h2.5M327 853h2.5M327 854h2.5M328 853h2.5M336 854h2.5M339 853h2.5M345 854h2.5M352 854h2.5M358 854h2.5M362 853h2.5M364 854h2.5M369 854h2.5M375 854h2.5M378 853h2.5M413 853h2.5M248 854h2.5M257 855h2.5M301 854h2.5M302 855h2.5M309 854h2.5M311 854h2.5M313 854h2.5M314 855h2.5M315 855h2.5M322 854h2.5M323 854h2.5M323 855h2.5M326 855h2.5M328 855h2.5M330 855h2.5M331 855h2.5M334 854h2.5M335 855h2.5M336 855h2.5M352 855h2.5M353 854h2.5M359 855h2.5M369 854h2.5M369 854h2.5M376 855h2.5M379 855h2.5M403 854h2.5M221 856h2.5M231 856h2.5M233 856h2.5M238 856h2.5M265 856h2.5M296 855h2.5M299 856h2.5M306 855h2.5M311 855h2.5M314 855h2.5M314 855h2.5M316 856h2.5M318 855h2.5M322 856h2.5M323 855h2.5M327 856h2.5M328 856h2.5M329 855h2.5M332 855h2.5M333 856h2.5M335 855h2.5M350 855h2.5M354 855h2.5M356 856h2.5M359 855h2.5M361 855h2.5M369 855h2.5M376 856h2.5M231 857h2.5M243 857h2.5M253 856h2.5M267 856h2.5M296 857h2.5M300 856h2.5M304 856h2.5M304 856h2.5M306 856h2.5M316 856h2.5M319 857h2.5M324 857h2.5M332 856h2.5M332 856h2.5M339 856h2.5M345 857h2.5M357 857h2.5M362 856h2.5M363 856h2.5M364 856h2.5M366 857h2.5M371 856h2.5M374 857h2.5M375 856h2.5M380 856h2.5M427 857h2.5M230 857h2.5M233 858h2.5M234 857h2.5M253 858h2.5M261 858h2.5M300 857h2.5M302 858h2.5M304 858h2.5M306 858h2.5M312 858h2.5M314 858h2.5M315 857h2.5M316 857h2.5M318 858h2.5M320 857h2.5M322 857h2.5M327 858h2.5M329 857h2.5M329 858h2.5M336 858h2.5M336 857h2.5M337 857h2.5M347 858h2.5M352 857h2.5M354 857h2.5M359 857h2.5M363 858h2.5M366 858h2.5M368 857h2.5M370 857h2.5M376 858h2.5M379 858h2.5M214 858h2.5M239 858h2.5M299 859h2.5M300 858h2.5M301 858h2.5M304 858h2.5M310 858h2.5M310 859h2.5M311 858h2.5M312 858h2.5M315 859h2.5M316 859h2.5M319 859h2.5M324 858h2.5M325 858h2.5M346 858h2.5M348 858h2.5M354 859h2.5M356 859h2.5M358 858h2.5M361 858h2.5M362 859h2.5M364 859h2.5M366 858h2.5M371 859h2.5M373 858h2.5M376 859h2.5M377 858h2.5M379 858h2.5M224 859h2.5M229 860h2.5M231 859h2.5M236 859h2.5M243 859h2.5M247 860h2.5M295 859h2.5M299 860h2.5M304 859h2.5M306 860h2.5M310 859h2.5M311 859h2.5M313 860h2.5M318 859h2.5M322 860h2.5M324 859h2.5M328 860h2.5M330 860h2.5M335 859h2.5M343 860h2.5M348 860h2.5M357 860h2.5M359 859h2.5M368 860h2.5M371 859h2.5M371 859h2.5M374 860h2.5M376 860h2.5M377 860h2.5M380 860h2.5M412 859h2.5M222 861h2.5M238 861h2.5M245 861h2.5M247 861h2.5M258 861h2.5M259 860h2.5M291 861h2.5M296 860h2.5M298 860h2.5M300 861h2.5M306 861h2.5M307 861h2.5M311 861h2.5M313 861h2.5M314 861h2.5M321 861h2.5M324 861h2.5M326 860h2.5M328 860h2.5M328 860h2.5M331 860h2.5M343 860h2.5M356 860h2.5M364 861h2.5M366 861h2.5M371 860h2.5M373 861h2.5M380 861h2.5M437 860h2.5M223 861h2.5M252 862h2.5M297 862h2.5M299 862h2.5M299 861h2.5M302 861h2.5M303 862h2.5M306 861h2.5M308 862h2.5M309 862h2.5M310 861h2.5M312 862h2.5M314 861h2.5M315 861h2.5M316 861h2.5M319 861h2.5M320 862h2.5M320 862h2.5M321 861h2.5M324 861h2.5M325 862h2.5M328 861h2.5M329 862h2.5M331 861h2.5M340 861h2.5M342 862h2.5M357 861h2.5M361 862h2.5M364 861h2.5M366 862h2.5M373 861h2.5M378 862h2.5M390 861h2.5M233 862h2.5M237 863h2.5M246 863h2.5M258 862h2.5M298 863h2.5M299 863h2.5M301 862h2.5M304 863h2.5M310 862h2.5M315 862h2.5M319 863h2.5M337 863h2.5M340 863h2.5M345 862h2.5M351 863h2.5M353 863h2.5M366 862h2.5M367 862h2.5M374 863h2.5M376 862h2.5M378 862h2.5M428 863h2.5M214 864h2.5M222 863h2.5M236 863h2.5M254 863h2.5M258 864h2.5M266 863h2.5M296 863h2.5M301 863h2.5M303 863h2.5M311 864h2.5M315 864h2.5M317 864h2.5M318 864h2.5M324 864h2.5M326 864h2.5M330 863h2.5M331 864h2.5M332 863h2.5M338 864h2.5M358 864h2.5M359 863h2.5M362 864h2.5M367 864h2.5M371 864h2.5M374 863h2.5M376 863h2.5M213 864h2.5M215 865h2.5M220 865h2.5M220 864h2.5M236 864h2.5M261 865h2.5M296 865h2.5M298 865h2.5M305 864h2.5M308 864h2.5M311 864h2.5M316 865h2.5M317 864h2.5M320 865h2.5M328 864h2.5M332 865h2.5M336 865h2.5M356 864h2.5M360 864h2.5M361 864h2.5M362 865h2.5M365 864h2.5M374 864h2.5M381 865h2.5M382 865h2.5M443 864h2.5M216 865h2.5M228 865h2.5M246 865h2.5M300 865h2.5M304 865h2.5M308 866h2.5M312 865h2.5M315 865h2.5M323 865h2.5M324 865h2.5M324 866h2.5M325 866h2.5M327 865h2.5M327 865h2.5M328 865h2.5M329 866h2.5M340 866h2.5M353 865h2.5M355 865h2.5M361 866h2.5M364 866h2.5M366 866h2.5M368 865h2.5M371 866h2.5M374 866h2.5M375 866h2.5M380 865h2.5M395 866h2.5M418 865h2.5M220 866h2.5M228 866h2.5M254 867h2.5M264 867h2.5M300 866h2.5M301 866h2.5M304 867h2.5M305 866h2.5M306 866h2.5M308 867h2.5M320 867h2.5M321 867h2.5M324 867h2.5M325 866h2.5M326 866h2.5M327 867h2.5M329 867h2.5M331 866h2.5M352 867h2.5M353 867h2.5M357 866h2.5M363 867h2.5M366 866h2.5M371 867h2.5M375 866h2.5M376 867h2.5M219 868h2.5M237 867h2.5M239 867h2.5M297 868h2.5M298 868h2.5M300 867h2.5M303 868h2.5M308 867h2.5M311 868h2.5M311 867h2.5M317 868h2.5M319 868h2.5M320 868h2.5M324 868h2.5M325 867h2.5M327 867h2.5M330 867h2.5M332 867h2.5M335 868h2.5M338 868h2.5M350 867h2.5M353 867h2.5M360 867h2.5M361 867h2.5M363 868h2.5M366 867h2.5M398 868h2.5M443 868h2.5M229 869h2.5M233 868h2.5M237 869h2.5M293 868h2.5M297 869h2.5M300 869h2.5M302 868h2.5M308 869h2.5M310 869h2.5M311 868h2.5M314 868h2.5M317 868h2.5M319 868h2.5M323 868h2.5M325 868h2.5M327 869h2.5M333 869h2.5M352 869h2.5M353 869h2.5M358 869h2.5M359 868h2.5M365 869h2.5M368 868h2.5M373 869h2.5M375 869h2.5M378 868h2.5M379 868h2.5M382 869h2.5M404 868h2.5M218 870h2.5M226 869h2.5M229 870h2.5M240 870h2.5M261 869h2.5M299 869h2.5M304 869h2.5M309 869h2.5M310 870h2.5M312 870h2.5M315 869h2.5M318 870h2.5M319 869h2.5M322 870h2.5M323 870h2.5M324 870h2.5M325 869h2.5M328 870h2.5M330 870h2.5M340 869h2.5M349 869h2.5M351 870h2.5M354 869h2.5M358 870h2.5M360 869h2.5M362 870h2.5M365 870h2.5M368 870h2.5M369 869h2.5M371 869h2.5M375 869h2.5M423 870h2.5M210 870h2.5M216 870h2.5M218 870h2.5M218 871h2.5M246 870h2.5M254 871h2.5M264 870h2.5M297 871h2.5M302 870h2.5M305 871h2.5M306 871h2.5M308 870h2.5M311 870h2.5M317 870h2.5M319 871h2.5M319 871h2.5M320 870h2.5M325 870h2.5M330 871h2.5M331 870h2.5M337 871h2.5M341 871h2.5M361 870h2.5M363 870h2.5M366 871h2.5M367 870h2.5M370 871h2.5M436 871h2.5M226 872h2.5M234 872h2.5M242 871h2.5M248 872h2.5M297 871h2.5M299 872h2.5M300 871h2.5M311 871h2.5M314 872h2.5M316 871h2.5M319 872h2.5M325 871h2.5M327 871h2.5M335 872h2.5M340 871h2.5M343 872h2.5M354 871h2.5M358 872h2.5M360 871h2.5M362 872h2.5M363 871h2.5M366 871h2.5M368 871h2.5M371 871h2.5M373 872h2.5M377 871h2.5M379 871h2.5M379 871h2.5M381 871h2.5M391 872h2.5M403 872h2.5M435 872h2.5M222 873h2.5M232 872h2.5M238 872h2.5M254 873h2.5M264 873h2.5M297 872h2.5M299 872h2.5M305 873h2.5M306 873h2.5M313 872h2.5M314 872h2.5M315 872h2.5M317 873h2.5M318 873h2.5M319 873h2.5M320 873h2.5M322 872h2.5M324 872h2.5M326 873h2.5M326 873h2.5M335 872h2.5M355 873h2.5M359 873h2.5M371 872h2.5M372 872h2.5M373 873h2.5M376 872h2.5M380 872h2.5M220 874h2.5M222 873h2.5M252 874h2.5M263 874h2.5M308 873h2.5M309 874h2.5M318 873h2.5M318 873h2.5M320 873h2.5M326 874h2.5M345 874h2.5M351 873h2.5M354 873h2.5M363 873h2.5M369 874h2.5M378 874h2.5M381 874h2.5M430 873h2.5M438 873h2.5M217 875h2.5M233 875h2.5M248 875h2.5M251 875h2.5M296 874h2.5M296 874h2.5M298 875h2.5M306 874h2.5M309 875h2.5M311 874h2.5M317 874h2.5M321 874h2.5M323 875h2.5M326 874h2.5M330 875h2.5M330 874h2.5M333 874h2.5M344 875h2.5M347 874h2.5M350 874h2.5M353 875h2.5M359 875h2.5M363 875h2.5M365 875h2.5M371 875h2.5M374 874h2.5M374 875h2.5M379 875h2.5M430 874h2.5M436 874h2.5M218 876h2.5M221 875h2.5M225 876h2.5M251 876h2.5M252 876h2.5M254 876h2.5M298 876h2.5M299 875h2.5M307 876h2.5M310 876h2.5M312 876h2.5M313 875h2.5M315 875h2.5M315 876h2.5M317 875h2.5M319 875h2.5M321 875h2.5M322 875h2.5M326 876h2.5M326 875h2.5M328 875h2.5M330 875h2.5M332 876h2.5M336 876h2.5M346 875h2.5M348 876h2.5M355 875h2.5M358 876h2.5M360 876h2.5M360 875h2.5M365 876h2.5M367 875h2.5M373 876h2.5M373 876h2.5M435 875h2.5M216 876h2.5M219 876h2.5M233 876h2.5M243 877h2.5M262 876h2.5M300 877h2.5M302 876h2.5M305 876h2.5M311 876h2.5M312 877h2.5M317 876h2.5M320 877h2.5M320 876h2.5M326 877h2.5M343 877h2.5M345 876h2.5M350 876h2.5M356 876h2.5M360 876h2.5M361 876h2.5M364 876h2.5M370 876h2.5M371 877h2.5M378 877h2.5M394 877h2.5M395 877h2.5M396 876h2.5M234 878h2.5M255 878h2.5M301 878h2.5M305 877h2.5M309 878h2.5M312 878h2.5M314 877h2.5M317 877h2.5M322 877h2.5M323 878h2.5M323 877h2.5M326 877h2.5M329 877h2.5M334 877h2.5M336 877h2.5M341 878h2.5M356 878h2.5M359 878h2.5M369 877h2.5M376 877h2.5M378 878h2.5M380 878h2.5M390 878h2.5M399 877h2.5M419 877h2.5M421 878h2.5M212 878h2.5M215 878h2.5M225 878h2.5M232 879h2.5M234 879h2.5M239 879h2.5M247 878h2.5M295 879h2.5M298 878h2.5M299 879h2.5M301 878h2.5M308 879h2.5M316 878h2.5M318 879h2.5M322 879h2.5M324 878h2.5M326 879h2.5M328 878h2.5M328 879h2.5M330 879h2.5M347 879h2.5M347 879h2.5M352 878h2.5M360 879h2.5M362 878h2.5M364 879h2.5M372 879h2.5M375 879h2.5M404 878h2.5M414 879h2.5M237 880h2.5M240 879h2.5M244 879h2.5M300 880h2.5M303 880h2.5M312 880h2.5M315 879h2.5M316 880h2.5M320 879h2.5M320 880h2.5M322 880h2.5M325 879h2.5M328 879h2.5M329 880h2.5M334 880h2.5M352 880h2.5M357 880h2.5M367 879h2.5M367 880h2.5M374 879h2.5M377 880h2.5M404 879h2.5M239 881h2.5M244 881h2.5M254 881h2.5M299 880h2.5M303 880h2.5M307 880h2.5M310 881h2.5M311 880h2.5M314 880h2.5M316 880h2.5M316 880h2.5M318 880h2.5M320 880h2.5M340 880h2.5M358 881h2.5M364 880h2.5M368 880h2.5M368 880h2.5M370 880h2.5M373 881h2.5M375 881h2.5M377 880h2.5M386 881h2.5M398 881h2.5M219 882h2.5M225 882h2.5M237 882h2.5M239 881h2.5M240 882h2.5M248 881h2.5M250 882h2.5M296 881h2.5M298 881h2.5M300 882h2.5M301 881h2.5M303 882h2.5M310 882h2.5M311 881h2.5M313 881h2.5M316 881h2.5M319 882h2.5M322 882h2.5M327 882h2.5M329 881h2.5M332 881h2.5M337 881h2.5M346 882h2.5M358 881h2.5M358 882h2.5M360 882h2.5M361 881h2.5M364 882h2.5M364 881h2.5M367 881h2.5M368 882h2.5M370 881h2.5M376 881h2.5M376 881h2.5M219 882h2.5M225 883h2.5M225 882h2.5M257 882h2.5M258 882h2.5M261 883h2.5M268 882h2.5M298 882h2.5M312 882h2.5M312 883h2.5M313 882h2.5M316 883h2.5M321 883h2.5M329 883h2.5M331 882h2.5M339 883h2.5M364 883h2.5M381 883h2.5M385 882h2.5M249 883h2.5M251 884h2.5M253 883h2.5M265 883h2.5M297 884h2.5M299 883h2.5M306 883h2.5M308 883h2.5M317 884h2.5M320 883h2.5M321 884h2.5M325 884h2.5M326 883h2.5M329 883h2.5M337 884h2.5M349 884h2.5M353 883h2.5M357 883h2.5M359 884h2.5M361 884h2.5M362 884h2.5M367 884h2.5M370 884h2.5M380 884h2.5M394 883h2.5M419 883h2.5M425 883h2.5M215 885h2.5M228 884h2.5M241 885h2.5M243 884h2.5M246 885h2.5M298 885h2.5M299 885h2.5M302 884h2.5M303 884h2.5M313 885h2.5M316 885h2.5M321 884h2.5M323 885h2.5M324 885h2.5M328 885h2.5M330 885h2.5M360 884h2.5M361 885h2.5M366 884h2.5M370 884h2.5M374 885h2.5M426 885h2.5M236 886h2.5M243 885h2.5M262 886h2.5M298 886h2.5M299 885h2.5M305 886h2.5M307 885h2.5M311 885h2.5M312 885h2.5M313 885h2.5M319 886h2.5M323 885h2.5M333 885h2.5M338 885h2.5M369 886h2.5M371 886h2.5M373 885h2.5M378 885h2.5M220 886h2.5M226 887h2.5M251 887h2.5M256 887h2.5M258 886h2.5M298 887h2.5M300 886h2.5M303 886h2.5M304 886h2.5M306 886h2.5M311 887h2.5M314 886h2.5M319 887h2.5M322 887h2.5M324 886h2.5M325 887h2.5M329 887h2.5M329 886h2.5M338 887h2.5M344 887h2.5M348 886h2.5M356 886h2.5M367 886h2.5M374 887h2.5M224 887h2.5M227 888h2.5M230 887h2.5M230 888h2.5M243 887h2.5M246 888h2.5M247 888h2.5M248 887h2.5M299 887h2.5M300 888h2.5M303 888h2.5M305 887h2.5M309 888h2.5M314 888h2.5M322 888h2.5M326 888h2.5M328 888h2.5M330 887h2.5M344 887h2.5M372 887h2.5M377 887h2.5M383 887h2.5M400 887h2.5M422 887h2.5M213 889h2.5M213 888h2.5M220 889h2.5M298 888h2.5M301 888h2.5M308 889h2.5M310 888h2.5M311 889h2.5M314 888h2.5M318 888h2.5M326 889h2.5M333 888h2.5M334 889h2.5M339 888h2.5M339 889h2.5M350 889h2.5M358 889h2.5M362 888h2.5M364 888h2.5M365 888h2.5M366 889h2.5M368 888h2.5M371 889h2.5M372 888h2.5M375 888h2.5M376 889h2.5M403 888h2.5M213 889h2.5M235 889h2.5M247 890h2.5M252 890h2.5M261 890h2.5M265 890h2.5M311 889h2.5M313 889h2.5M320 889h2.5M325 890h2.5M328 890h2.5M329 890h2.5M330 889h2.5M344 890h2.5M345 889h2.5M369 889h2.5M373 889h2.5M378 889h2.5M379 890h2.5M380 890h2.5M381 889h2.5M407 890h2.5M422 890h2.5M211 891h2.5M217 891h2.5M230 891h2.5M241 891h2.5M243 891h2.5M247 891h2.5M294 890h2.5M296 890h2.5M307 890h2.5M310 890h2.5M321 891h2.5M334 890h2.5M336 891h2.5M346 891h2.5M351 890h2.5M366 890h2.5M386 890h2.5M413 890h2.5M212 892h2.5M227 892h2.5M229 891h2.5M246 891h2.5M260 891h2.5M262 892h2.5M297 891h2.5M298 892h2.5M301 892h2.5M304 891h2.5M305 891h2.5M307 892h2.5M308 891h2.5M310 892h2.5M313 892h2.5M320 892h2.5M329 892h2.5M333 891h2.5M408 892h2.5M224 893h2.5M225 893h2.5M239 892h2.5M244 892h2.5M299 893h2.5M301 892h2.5M306 893h2.5M324 892h2.5M440 892h2.5M444 892h2.5M261 894h2.5M298 894h2.5M303 894h2.5M304 893h2.5M307 893h2.5M315 893h2.5M325 893h2.5M328 893h2.5M348 894h2.5M396 893h2.5M434 894h2.5M218 895h2.5M225 894h2.5M229 894h2.5M255 895h2.5M258 895h2.5M336 894h2.5M351 895h2.5M417 895h2.5M249 895h2.5M307 896h2.5M386 896h2.5M388 895h2.5M392 896h2.5M394 895h2.5M225 896h2.5M386 896h2.5M393 896h2.5M230 897h2.5M243 898h2.5M412 897h2.5M261 898h2.5" stroke="#000" stroke-width="2.5" fill="none"/>
<path d="M97.8 591.5 H564.7 V1029.3 H97.8 Z" fill="none" stroke="#111" stroke-width="2"/>
<line x1="89.8" y1="607" x2="97.8" y2="607" stroke="#000" stroke-width="1.6"/>
<line x1="83.8" y1="636.4" x2="97.8" y2="636.4" stroke="#000" stroke-width="1.6"/>
<line x1="89.8" y1="665.8" x2="97.8" y2="665.8" stroke="#000" stroke-width="1.6"/>
<line x1="89.8" y1="695.2" x2="97.8" y2="695.2" stroke="#000" stroke-width="1.6"/>
<line x1="89.8" y1="724.7" x2="97.8" y2="724.7" stroke="#000" stroke-width="1.6"/>
<line x1="89.8" y1="754.1" x2="97.8" y2="754.1" stroke="#000" stroke-width="1.6"/>
<line x1="83.8" y1="783.5" x2="97.8" y2="783.5" stroke="#000" stroke-width="1.6"/>
<line x1="89.8" y1="812.9" x2="97.8" y2="812.9" stroke="#000" stroke-width="1.6"/>
<line x1="89.8" y1="842.3" x2="97.8" y2="842.3" stroke="#000" stroke-width="1.6"/>
<line x1="89.8" y1="871.8" x2="97.8" y2="871.8" stroke="#000" stroke-width="1.6"/>
<line x1="89.8" y1="901.2" x2="97.8" y2="901.2" stroke="#000" stroke-width="1.6"/>
<line x1="83.8" y1="930.6" x2="97.8" y2="930.6" stroke="#000" stroke-width="1.6"/>
<line x1="89.8" y1="960" x2="97.8" y2="960" stroke="#000" stroke-width="1.6"/>
<line x1="89.8" y1="989.4" x2="97.8" y2="989.4" stroke="#000" stroke-width="1.6"/>
<line x1="89.8" y1="1018.9" x2="97.8" y2="1018.9" stroke="#000" stroke-width="1.6"/>
<line x1="115" y1="1029.3" x2="115" y2="1045.3" stroke="#000" stroke-width="1.6"/>
<line x1="144.5" y1="1029.3" x2="144.5" y2="1038.3" stroke="#000" stroke-width="1.6"/>
<line x1="174" y1="1029.3" x2="174" y2="1038.3" stroke="#000" stroke-width="1.6"/>
<line x1="203.5" y1="1029.3" x2="203.5" y2="1038.3" stroke="#000" stroke-width="1.6"/>
<line x1="233" y1="1029.3" x2="233" y2="1038.3" stroke="#000" stroke-width="1.6"/>
<line x1="262.5" y1="1029.3" x2="262.5" y2="1045.3" stroke="#000" stroke-width="1.6"/>
<line x1="292" y1="1029.3" x2="292" y2="1038.3" stroke="#000" stroke-width="1.6"/>
<line x1="321.5" y1="1029.3" x2="321.5" y2="1038.3" stroke="#000" stroke-width="1.6"/>
<line x1="351" y1="1029.3" x2="351" y2="1038.3" stroke="#000" stroke-width="1.6"/>
<line x1="380.5" y1="1029.3" x2="380.5" y2="1038.3" stroke="#000" stroke-width="1.6"/>
<line x1="410" y1="1029.3" x2="410" y2="1045.3" stroke="#000" stroke-width="1.6"/>
<line x1="439.5" y1="1029.3" x2="439.5" y2="1038.3" stroke="#000" stroke-width="1.6"/>
<line x1="469" y1="1029.3" x2="469" y2="1038.3" stroke="#000" stroke-width="1.6"/>
<line x1="498.5" y1="1029.3" x2="498.5" y2="1038.3" stroke="#000" stroke-width="1.6"/>
<line x1="528" y1="1029.3" x2="528" y2="1038.3" stroke="#000" stroke-width="1.6"/>
<line x1="557.5" y1="1029.3" x2="557.5" y2="1045.3" stroke="#000" stroke-width="1.6"/>
<text x="80" y="643" font-family="'Liberation Sans', Arial, sans-serif" font-size="25" font-weight="normal" fill="#000" text-anchor="end" >150</text>
<text x="80" y="790.3" font-family="'Liberation Sans', Arial, sans-serif" font-size="25" font-weight="normal" fill="#000" text-anchor="end" >100</text>
<text x="80" y="937.7" font-family="'Liberation Sans', Arial, sans-serif" font-size="25" font-weight="normal" fill="#000" text-anchor="end" >50</text>
<text x="115.5" y="1067.3" font-family="'Liberation Sans', Arial, sans-serif" font-size="25" font-weight="normal" fill="#000" text-anchor="middle" >50</text>
<text x="258.8" y="1067.3" font-family="'Liberation Sans', Arial, sans-serif" font-size="25" font-weight="normal" fill="#000" text-anchor="middle" >100</text>
<text x="406" y="1067.3" font-family="'Liberation Sans', Arial, sans-serif" font-size="25" font-weight="normal" fill="#000" text-anchor="middle" >150</text>
<text x="264.3" y="1103.3" font-family="'Liberation Sans', Arial, sans-serif" font-size="25" font-weight="normal" fill="#000" text-anchor="start" textLength="79" lengthAdjust="spacingAndGlyphs">DAPI-A</text>
<text x="477.5" y="1099" font-family="'Liberation Sans', Arial, sans-serif" font-size="24" font-weight="normal" fill="#000" text-anchor="start" textLength="97.5" lengthAdjust="spacingAndGlyphs">(x 1,000)</text>
<text transform="translate(34.5 846.5) rotate(-90)" font-family="'Liberation Sans', Arial, sans-serif" font-size="25" textLength="87" lengthAdjust="spacingAndGlyphs">DAPI-W</text>
<text transform="translate(30.5 686.5) rotate(-90)" font-family="'Liberation Sans', Arial, sans-serif" font-size="23.5" textLength="98" lengthAdjust="spacingAndGlyphs">(x 1,000)</text>
<text x="62" y="1070" font-family="'Liberation Sans', Arial, sans-serif" font-size="37" font-weight="bold" fill="#000" text-anchor="start" >c</text>
<rect x="107.3" y="776.7" width="102.5" height="151.6" fill="#000"/>
<g filter="url(#bl)"><line x1="124.5" y1="825" x2="124.5" y2="847" stroke="#0606c4" stroke-width="23" stroke-linecap="round" opacity="1"/><line x1="125" y1="868" x2="125" y2="888" stroke="#0606c4" stroke-width="22" stroke-linecap="round" opacity="1"/><line x1="157.7" y1="839" x2="157.7" y2="843" stroke="#0606c4" stroke-width="23" stroke-linecap="round" opacity="1"/><line x1="158" y1="866" x2="158" y2="869" stroke="#0606c4" stroke-width="22.5" stroke-linecap="round" opacity="1"/><line x1="187" y1="841" x2="187" y2="843" stroke="#0606c4" stroke-width="21" stroke-linecap="round" opacity="1"/><line x1="188" y1="862" x2="188" y2="876" stroke="#0606c4" stroke-width="23" stroke-linecap="round" opacity="1"/></g>
<g filter="url(#bs)"><circle cx="124.4" cy="815.5" r="3.2" fill="#ff0a86"/><circle cx="132.6" cy="823.3" r="3.2" fill="#ff0a86"/><circle cx="151" cy="831" r="3.2" fill="#ff0a86"/><circle cx="155.5" cy="833.5" r="3.2" fill="#ff0a86"/><circle cx="159.5" cy="836" r="3.2" fill="#ff0a86"/><circle cx="125.2" cy="824.7" r="2.5" fill="#12f0b0"/><circle cx="125.2" cy="895.8" r="2.5" fill="#12f0b0"/><circle cx="129.6" cy="892.8" r="2.5" fill="#12f0b0"/><circle cx="147.4" cy="833.6" r="2.5" fill="#12f0b0"/><circle cx="152.5" cy="837.3" r="2.5" fill="#12f0b0"/><circle cx="163.6" cy="835.1" r="2.5" fill="#12f0b0"/><circle cx="158.4" cy="878" r="2.5" fill="#12f0b0"/><circle cx="164.4" cy="875" r="2.5" fill="#12f0b0"/><circle cx="184.3" cy="866.2" r="2.5" fill="#12f0b0"/><circle cx="192.5" cy="866.2" r="2.5" fill="#12f0b0"/></g>
<text x="116.8" y="800.8" font-family="'Liberation Serif', 'Times New Roman', serif" font-size="23.3" font-weight="bold" fill="#fff" textLength="23.2" lengthAdjust="spacingAndGlyphs">1P</text>
<text x="149.3" y="800.8" font-family="'Liberation Serif', 'Times New Roman', serif" font-size="23.3" font-weight="bold" fill="#fff" textLength="23.5" lengthAdjust="spacingAndGlyphs">3P</text>
<text x="181" y="800.8" font-family="'Liberation Serif', 'Times New Roman', serif" font-size="23.3" font-weight="bold" fill="#fff" textLength="23" lengthAdjust="spacingAndGlyphs">4P</text>
<rect x="269.6" y="608.9" width="102.4" height="149.3" fill="#000"/>
<g filter="url(#bl)"><line x1="297" y1="668" x2="297" y2="673" stroke="#0606c4" stroke-width="23" stroke-linecap="round" opacity="1"/><line x1="297" y1="697" x2="297" y2="719" stroke="#0606c4" stroke-width="23.5" stroke-linecap="round" opacity="1"/><line x1="338.5" y1="652" x2="332" y2="680" stroke="#0606c4" stroke-width="14" stroke-linecap="round" opacity="1"/><line x1="350" y1="652" x2="343.5" y2="680" stroke="#0606c4" stroke-width="14" stroke-linecap="round" opacity="1"/><line x1="331.5" y1="698" x2="336" y2="727" stroke="#0606c4" stroke-width="14" stroke-linecap="round" opacity="1"/><line x1="342.5" y1="698" x2="350.5" y2="726" stroke="#0606c4" stroke-width="14" stroke-linecap="round" opacity="1"/></g>
<g filter="url(#bs)"><line x1="344.3" y1="647" x2="337.8" y2="684" stroke="#000" stroke-width="2.2" opacity="0.75"/><line x1="337" y1="696" x2="343.4" y2="731" stroke="#000" stroke-width="2.2" opacity="0.75"/><circle cx="334" cy="689" r="3.5" fill="#000"/><circle cx="294" cy="663.6" r="3.2" fill="#ff0a86"/><circle cx="301.4" cy="658.4" r="3.2" fill="#ff0a86"/><circle cx="339.9" cy="653.3" r="2.5" fill="#12f0b0"/><circle cx="336.2" cy="658.4" r="2.5" fill="#12f0b0"/><circle cx="348.8" cy="651" r="2.5" fill="#12f0b0"/><circle cx="346.6" cy="657.7" r="2.5" fill="#12f0b0"/><circle cx="351.7" cy="651.8" r="2.5" fill="#12f0b0"/><circle cx="334.7" cy="729.5" r="2.5" fill="#12f0b0"/><circle cx="351" cy="723.6" r="2.5" fill="#12f0b0"/><circle cx="342.9" cy="726.5" r="2.5" fill="#12f0b0"/></g>
<text x="289" y="637" font-family="'Liberation Serif', 'Times New Roman', serif" font-size="22" font-weight="bold" fill="#fff" textLength="24" lengthAdjust="spacingAndGlyphs">5P</text>
<text x="338.7" y="637" font-family="'Liberation Serif', 'Times New Roman', serif" font-size="22" font-weight="bold" fill="#fff" textLength="24" lengthAdjust="spacingAndGlyphs">6P</text>
<rect x="446.8" y="753.2" width="102.3" height="175" fill="#000"/>
<g filter="url(#bl)"><line x1="465" y1="790" x2="480" y2="826" stroke="#0606c4" stroke-width="13" stroke-linecap="round" opacity="1"/><line x1="477" y1="788" x2="490" y2="822" stroke="#0606c4" stroke-width="13" stroke-linecap="round" opacity="1"/><line x1="479" y1="842" x2="462" y2="916" stroke="#0606c4" stroke-width="11.5" stroke-linecap="round" opacity="1"/><line x1="490" y1="844" x2="472" y2="909" stroke="#0606c4" stroke-width="11.5" stroke-linecap="round" opacity="1"/><line x1="530" y1="790" x2="518.5" y2="828" stroke="#0606c4" stroke-width="21" stroke-linecap="round" opacity="1"/><line x1="516.5" y1="852" x2="531" y2="893" stroke="#0606c4" stroke-width="21" stroke-linecap="round" opacity="1"/></g>
<g filter="url(#bs)"><line x1="478" y1="800" x2="486" y2="822" stroke="#000" stroke-width="2" opacity="0.6"/><circle cx="463.9" cy="792.7" r="3.8" fill="#ff0a86"/><circle cx="479.2" cy="786.5" r="3.8" fill="#ff0a86"/><circle cx="527.8" cy="786.5" r="3.4" fill="#ff0a86"/><circle cx="536.3" cy="784.5" r="3.8" fill="#ff0a86"/><circle cx="524.5" cy="896.7" r="3.6" fill="#ff0a86"/><circle cx="528" cy="894" r="3" fill="#ff0a86"/><circle cx="538.9" cy="898.4" r="3.8" fill="#ff0a86"/><circle cx="520" cy="791" r="2.5" fill="#12f0b0"/><circle cx="533.7" cy="796" r="2.5" fill="#12f0b0"/><circle cx="528.6" cy="791" r="2.5" fill="#12f0b0"/><circle cx="520" cy="887" r="2.5" fill="#12f0b0"/><circle cx="524.4" cy="888" r="2.5" fill="#12f0b0"/><circle cx="537.2" cy="886.5" r="2.5" fill="#12f0b0"/></g>
<text x="460.8" y="775.7" font-family="'Liberation Serif', 'Times New Roman', serif" font-size="22" font-weight="bold" fill="#fff" textLength="23.5" lengthAdjust="spacingAndGlyphs">2P</text>
<text x="522.2" y="775.7" font-family="'Liberation Serif', 'Times New Roman', serif" font-size="22" font-weight="bold" fill="#fff" textLength="22.5" lengthAdjust="spacingAndGlyphs">7P</text>
<path d="M215 868 L232 849 L232 859 L254 859 L254 875 L232 875 L232 886 Z" fill="none" stroke="#000" stroke-width="3.0" stroke-linejoin="miter"/>
<path d="M319 764 L337 782 L328 782 L328 809 L309 809 L309 782 L300 782 Z" fill="none" stroke="#000" stroke-width="3.0" stroke-linejoin="miter"/>
<path d="M440 841 L422 823 L422 831 L388.6 831 L388.6 850 L422 850 L422 859.6 Z" fill="none" stroke="#000" stroke-width="3.0" stroke-linejoin="miter"/>
<rect x="266.7" y="841.2" width="27.9" height="52" fill="none" stroke="#f7922e" stroke-width="2.8"/>
<rect x="306" y="825.4" width="26" height="65.6" fill="none" stroke="#f7922e" stroke-width="2.8"/>
<rect x="354" y="807.8" width="26.4" height="81.2" fill="none" stroke="#f7922e" stroke-width="2.8"/>
<text x="274" y="948" font-family="'Liberation Serif', 'Times New Roman', serif" font-size="38" font-weight="normal" fill="#000" text-anchor="start" >I</text>
<text x="308" y="939" font-family="'Liberation Serif', 'Times New Roman', serif" font-size="38" font-weight="normal" fill="#000" text-anchor="start" >II</text>
<text x="348" y="938" font-family="'Liberation Serif', 'Times New Roman', serif" font-size="38" font-weight="normal" fill="#000" text-anchor="start" >III</text>
<rect x="896" y="836" width="26" height="69" fill="#000" opacity="0.55"/>
<rect x="933" y="816" width="30" height="86" fill="#000" opacity="0.35"/>
<path d="M1022 593h1.9M1082 594h1.9M1119 595h1.9M1133 595h1.9M1118 597h1.9M1013 599h1.9M882 599h1.9M1136 599h1.9M932 601h1.9M1120 601h1.9M1081 602h1.9M1096 607h1.9M1136 611h1.9M1104 612h1.9M1129 614h1.9M1012 619h1.9M1170 620h1.9M870 621h1.9M1170 623h1.9M1136 624h1.9M1025 625h1.9M1076 624h1.9M1017 625h1.9M1025 626h1.9M1124 628h1.9M1169 627h1.9M870 628h1.9M1007 629h1.9M1032 634h1.9M1091 637h1.9M1013 639h1.9M1000 642h1.9M1159 642h1.9M847 647h1.9M1007 647h1.9M1004 648h1.9M1049 649h1.9M1012 652h1.9M1060 653h1.9M1011 656h1.9M1005 657h1.9M1044 657h1.9M1008 658h1.9M1014 659h1.9M879 664h1.9M1000 668h1.9M1076 670h1.9M1160 672h1.9M1009 674h1.9M882 677h1.9M1032 679h1.9M894 680h1.9M1035 680h1.9M1056 680h1.9M1019 681h1.9M1042 683h1.9M1069 683h1.9M1072 684h1.9M1014 688h1.9M1047 688h1.9M1133 687h1.9M1167 688h1.9M1041 688h1.9M1022 690h1.9M1109 692h1.9M1025 694h1.9M882 695h1.9M1016 699h1.9M1001 700h1.9M1079 702h1.9M1017 703h1.9M1120 703h1.9M881 705h1.9M1016 705h1.9M883 707h1.9M1128 707h1.9M891 709h1.9M874 711h1.9M1018 711h1.9M1144 713h1.9M1016 714h1.9M1008 714h1.9M1055 714h1.9M1103 714h1.9M1030 716h1.9M866 716h1.9M870 717h1.9M879 717h1.9M1005 717h1.9M1044 717h1.9M1010 719h1.9M868 720h1.9M1017 721h1.9M866 724h1.9M898 725h1.9M1045 725h1.9M874 725h1.9M1006 729h1.9M1024 728h1.9M882 731h1.9M888 732h1.9M1149 732h1.9M1021 732h1.9M1024 732h1.9M882 734h1.9M1034 733h1.9M1041 733h1.9M1079 735h1.9M1045 736h1.9M1084 736h1.9M856 737h1.9M1026 737h1.9M1034 739h1.9M1063 744h1.9M1026 744h1.9M1030 745h1.9M1027 746h1.9M1032 748h1.9M1042 751h1.9M869 752h1.9M1115 753h1.9M1101 755h1.9M1169 755h1.9M1092 759h1.9M1029 762h1.9M871 763h1.9M1049 762h1.9M875 764h1.9M866 765h1.9M1031 764h1.9M1041 764h1.9M1026 766h1.9M1029 766h1.9M1054 767h1.9M865 767h1.9M1047 768h1.9M1043 770h1.9M1050 771h1.9M1050 774h1.9M864 775h1.9M1040 777h1.9M1050 781h1.9M1057 784h1.9M1035 784h1.9M1039 785h1.9M1034 785h1.9M1040 787h1.9M1041 789h1.9M1033 790h1.9M1051 791h1.9M1037 792h1.9M1061 792h1.9M850 794h1.9M1037 794h1.9M845 795h1.9M854 798h1.9M1053 799h1.9M856 801h1.9M1059 803h1.9M1039 803h1.9M1050 804h1.9M1043 806h1.9M1043 809h1.9M849 812h1.9M856 814h1.9M1059 814h1.9M1169 830h1.9M1053 836h1.9M1053 842h1.9M1049 844h1.9M1047 847h1.9M1169 851h1.9M1046 858h1.9M1054 862h1.9M1057 868h1.9M1041 870h1.9M1054 871h1.9M1044 881h1.9M1046 883h1.9M1043 888h1.9M1057 896h1.9M1059 897h1.9M1053 900h1.9M1044 902h1.9M1051 903h1.9" stroke="#000" stroke-width="1.9" fill="none"/><path d="M1003 731h2.5M1008 737h2.5M1012 737h2.5M889 740h2.5M897 740h2.5M1018 741h2.5M1002 742h2.5M1012 742h2.5M1017 744h2.5M1017 745h2.5M896 746h2.5M895 747h2.5M1019 748h2.5M1001 749h2.5M885 749h2.5M1006 750h2.5M906 751h2.5M930 750h2.5M934 751h2.5M946 750h2.5M954 750h2.5M976 751h2.5M1014 751h2.5M907 752h2.5M921 751h2.5M932 752h2.5M938 752h2.5M943 752h2.5M952 752h2.5M971 752h2.5M987 751h2.5M1002 751h2.5M907 753h2.5M912 752h2.5M919 753h2.5M922 753h2.5M937 753h2.5M941 753h2.5M942 752h2.5M943 753h2.5M944 752h2.5M958 753h2.5M964 753h2.5M967 752h2.5M968 753h2.5M999 752h2.5M1005 752h2.5M895 754h2.5M906 754h2.5M906 753h2.5M919 754h2.5M936 753h2.5M943 753h2.5M950 753h2.5M978 753h2.5M979 753h2.5M997 754h2.5M1000 754h2.5M1003 753h2.5M1004 754h2.5M1015 753h2.5M881 755h2.5M893 754h2.5M918 754h2.5M929 754h2.5M936 754h2.5M939 755h2.5M941 754h2.5M942 754h2.5M948 755h2.5M958 755h2.5M976 755h2.5M979 754h2.5M995 755h2.5M896 756h2.5M900 756h2.5M902 755h2.5M906 755h2.5M924 755h2.5M949 755h2.5M958 756h2.5M965 756h2.5M893 756h2.5M921 756h2.5M933 757h2.5M962 757h2.5M981 757h2.5M984 756h2.5M987 756h2.5M994 756h2.5M894 758h2.5M902 757h2.5M904 758h2.5M905 757h2.5M906 758h2.5M909 757h2.5M918 757h2.5M923 757h2.5M925 758h2.5M930 757h2.5M941 757h2.5M959 758h2.5M962 758h2.5M965 758h2.5M973 758h2.5M993 758h2.5M1005 758h2.5M1006 758h2.5M891 759h2.5M892 758h2.5M915 759h2.5M941 758h2.5M944 758h2.5M950 759h2.5M953 759h2.5M958 759h2.5M971 758h2.5M978 758h2.5M999 759h2.5M1003 758h2.5M888 760h2.5M902 759h2.5M912 759h2.5M913 759h2.5M919 760h2.5M924 760h2.5M924 760h2.5M934 760h2.5M950 760h2.5M953 759h2.5M965 760h2.5M1013 760h2.5M889 760h2.5M889 761h2.5M896 761h2.5M909 761h2.5M911 760h2.5M923 761h2.5M934 761h2.5M936 760h2.5M938 760h2.5M940 761h2.5M941 761h2.5M949 760h2.5M962 760h2.5M978 761h2.5M998 760h2.5M881 761h2.5M900 762h2.5M908 762h2.5M918 762h2.5M919 762h2.5M927 761h2.5M942 761h2.5M973 761h2.5M979 761h2.5M981 762h2.5M994 762h2.5M885 763h2.5M886 762h2.5M899 763h2.5M929 762h2.5M930 762h2.5M939 762h2.5M951 762h2.5M956 763h2.5M959 762h2.5M984 763h2.5M994 763h2.5M887 764h2.5M920 764h2.5M925 763h2.5M931 763h2.5M941 764h2.5M941 763h2.5M949 764h2.5M955 764h2.5M960 763h2.5M966 764h2.5M969 764h2.5M974 763h2.5M974 764h2.5M976 763h2.5M979 763h2.5M991 764h2.5M1001 763h2.5M1004 763h2.5M896 764h2.5M903 764h2.5M905 764h2.5M922 765h2.5M930 764h2.5M938 764h2.5M945 764h2.5M973 765h2.5M994 764h2.5M899 765h2.5M905 765h2.5M920 765h2.5M925 766h2.5M942 766h2.5M981 765h2.5M1011 766h2.5M905 766h2.5M916 766h2.5M921 766h2.5M933 766h2.5M946 766h2.5M954 767h2.5M956 766h2.5M958 766h2.5M975 766h2.5M980 766h2.5M986 766h2.5M992 766h2.5M909 768h2.5M910 767h2.5M929 768h2.5M931 768h2.5M945 767h2.5M948 767h2.5M950 767h2.5M978 767h2.5M992 767h2.5M883 768h2.5M895 768h2.5M896 769h2.5M903 768h2.5M904 769h2.5M910 768h2.5M954 769h2.5M970 768h2.5M976 768h2.5M994 768h2.5M1001 769h2.5M1007 768h2.5M918 769h2.5M942 769h2.5M944 769h2.5M947 770h2.5M970 769h2.5M981 770h2.5M984 770h2.5M1000 770h2.5M1009 770h2.5M889 771h2.5M905 770h2.5M906 770h2.5M914 770h2.5M924 770h2.5M938 770h2.5M949 770h2.5M956 770h2.5M991 771h2.5M995 771h2.5M1003 771h2.5M1016 771h2.5M895 772h2.5M900 771h2.5M914 772h2.5M922 772h2.5M926 772h2.5M935 771h2.5M941 772h2.5M942 771h2.5M964 772h2.5M968 771h2.5M981 771h2.5M988 772h2.5M990 771h2.5M994 772h2.5M1020 772h2.5M895 773h2.5M907 772h2.5M911 773h2.5M921 773h2.5M936 773h2.5M940 772h2.5M942 772h2.5M947 772h2.5M948 772h2.5M950 772h2.5M958 772h2.5M967 772h2.5M976 772h2.5M977 772h2.5M989 772h2.5M991 772h2.5M1003 773h2.5M900 774h2.5M904 774h2.5M907 774h2.5M908 773h2.5M916 774h2.5M925 774h2.5M953 774h2.5M976 773h2.5M999 773h2.5M897 774h2.5M908 775h2.5M917 775h2.5M920 775h2.5M922 774h2.5M948 774h2.5M955 774h2.5M971 774h2.5M973 774h2.5M984 774h2.5M879 775h2.5M894 775h2.5M900 776h2.5M942 775h2.5M958 775h2.5M964 775h2.5M971 775h2.5M1021 776h2.5M915 776h2.5M917 777h2.5M929 776h2.5M969 776h2.5M984 777h2.5M987 776h2.5M904 777h2.5M909 777h2.5M914 777h2.5M921 777h2.5M921 777h2.5M924 778h2.5M926 778h2.5M932 777h2.5M938 778h2.5M939 778h2.5M943 777h2.5M944 778h2.5M949 777h2.5M955 777h2.5M957 778h2.5M897 779h2.5M905 779h2.5M909 779h2.5M915 779h2.5M925 778h2.5M927 779h2.5M928 778h2.5M941 778h2.5M942 778h2.5M949 779h2.5M951 778h2.5M952 779h2.5M969 778h2.5M984 779h2.5M987 779h2.5M999 778h2.5M1003 779h2.5M902 779h2.5M932 780h2.5M933 779h2.5M946 780h2.5M954 779h2.5M962 780h2.5M963 779h2.5M973 780h2.5M975 780h2.5M982 779h2.5M1007 779h2.5M1009 780h2.5M1010 780h2.5M884 781h2.5M892 781h2.5M896 781h2.5M905 781h2.5M932 780h2.5M934 780h2.5M938 781h2.5M966 781h2.5M983 781h2.5M986 780h2.5M994 780h2.5M1002 780h2.5M899 782h2.5M905 781h2.5M919 781h2.5M924 782h2.5M931 781h2.5M944 782h2.5M956 781h2.5M968 782h2.5M971 782h2.5M979 782h2.5M982 781h2.5M983 782h2.5M983 781h2.5M985 782h2.5M993 782h2.5M1007 781h2.5M880 782h2.5M898 782h2.5M899 783h2.5M917 783h2.5M933 783h2.5M937 782h2.5M941 782h2.5M944 782h2.5M947 783h2.5M950 783h2.5M952 782h2.5M958 782h2.5M976 783h2.5M1004 783h2.5M866 784h2.5M926 783h2.5M927 784h2.5M951 783h2.5M953 783h2.5M957 784h2.5M959 783h2.5M974 783h2.5M984 784h2.5M990 783h2.5M1024 784h2.5M872 784h2.5M912 785h2.5M951 784h2.5M958 784h2.5M1006 785h2.5M889 785h2.5M901 785h2.5M905 786h2.5M911 785h2.5M927 786h2.5M961 786h2.5M980 786h2.5M982 786h2.5M986 786h2.5M990 785h2.5M1006 785h2.5M1026 786h2.5M865 786h2.5M893 786h2.5M899 787h2.5M920 786h2.5M921 786h2.5M924 787h2.5M927 786h2.5M939 786h2.5M953 787h2.5M958 786h2.5M966 787h2.5M976 786h2.5M991 787h2.5M884 787h2.5M890 788h2.5M922 787h2.5M944 787h2.5M958 787h2.5M968 788h2.5M971 788h2.5M973 787h2.5M977 788h2.5M991 788h2.5M1010 788h2.5M875 788h2.5M879 789h2.5M886 788h2.5M888 789h2.5M889 789h2.5M905 788h2.5M905 788h2.5M909 788h2.5M911 789h2.5M923 789h2.5M935 789h2.5M943 788h2.5M943 789h2.5M945 789h2.5M948 789h2.5M953 789h2.5M954 789h2.5M959 789h2.5M960 789h2.5M961 789h2.5M987 788h2.5M990 788h2.5M992 789h2.5M996 788h2.5M1006 789h2.5M1006 789h2.5M1008 789h2.5M865 789h2.5M901 789h2.5M917 789h2.5M935 789h2.5M941 790h2.5M957 790h2.5M959 789h2.5M965 789h2.5M967 789h2.5M989 789h2.5M1008 789h2.5M1008 790h2.5M1016 790h2.5M867 790h2.5M886 790h2.5M901 791h2.5M927 790h2.5M938 791h2.5M948 791h2.5M951 791h2.5M966 790h2.5M968 790h2.5M987 790h2.5M916 791h2.5M926 791h2.5M932 791h2.5M943 792h2.5M947 791h2.5M950 792h2.5M954 792h2.5M962 791h2.5M972 791h2.5M976 792h2.5M990 792h2.5M992 791h2.5M1003 792h2.5M1004 792h2.5M863 792h2.5M878 792h2.5M881 792h2.5M897 792h2.5M899 792h2.5M906 792h2.5M910 792h2.5M934 793h2.5M938 793h2.5M950 793h2.5M958 792h2.5M969 792h2.5M993 792h2.5M1014 793h2.5M1022 792h2.5M885 794h2.5M890 794h2.5M902 793h2.5M909 793h2.5M911 793h2.5M941 793h2.5M942 793h2.5M947 794h2.5M951 793h2.5M956 793h2.5M959 793h2.5M965 793h2.5M973 793h2.5M991 793h2.5M1001 794h2.5M1003 794h2.5M862 794h2.5M868 794h2.5M894 794h2.5M920 795h2.5M927 795h2.5M929 794h2.5M930 795h2.5M931 795h2.5M954 794h2.5M956 794h2.5M964 794h2.5M980 794h2.5M995 795h2.5M1009 795h2.5M1012 794h2.5M1021 795h2.5M1024 794h2.5M879 796h2.5M908 796h2.5M920 796h2.5M924 796h2.5M938 796h2.5M942 796h2.5M982 795h2.5M988 795h2.5M993 795h2.5M1001 795h2.5M875 796h2.5M883 797h2.5M884 797h2.5M919 797h2.5M922 797h2.5M975 797h2.5M979 797h2.5M987 796h2.5M992 797h2.5M1004 796h2.5M1005 796h2.5M1007 796h2.5M882 797h2.5M889 798h2.5M920 797h2.5M937 797h2.5M940 797h2.5M950 797h2.5M977 797h2.5M1005 797h2.5M870 798h2.5M898 799h2.5M918 798h2.5M940 798h2.5M943 799h2.5M950 798h2.5M955 799h2.5M956 798h2.5M971 798h2.5M975 799h2.5M981 798h2.5M988 799h2.5M990 799h2.5M991 799h2.5M1003 799h2.5M876 800h2.5M882 799h2.5M907 800h2.5M916 800h2.5M919 800h2.5M928 800h2.5M940 800h2.5M942 799h2.5M949 799h2.5M952 800h2.5M971 800h2.5M973 800h2.5M978 799h2.5M981 799h2.5M988 799h2.5M992 799h2.5M995 799h2.5M866 800h2.5M884 801h2.5M893 801h2.5M899 801h2.5M900 800h2.5M904 801h2.5M911 801h2.5M950 800h2.5M961 801h2.5M971 800h2.5M990 801h2.5M1011 800h2.5M1014 801h2.5M1016 800h2.5M1018 801h2.5M865 801h2.5M865 801h2.5M881 802h2.5M893 801h2.5M897 801h2.5M907 802h2.5M909 801h2.5M915 802h2.5M935 802h2.5M938 801h2.5M947 801h2.5M958 802h2.5M980 801h2.5M1003 802h2.5M868 803h2.5M871 803h2.5M874 803h2.5M880 802h2.5M891 802h2.5M895 802h2.5M925 802h2.5M928 803h2.5M948 803h2.5M954 803h2.5M964 802h2.5M967 802h2.5M979 803h2.5M1000 802h2.5M1006 803h2.5M1008 803h2.5M1009 803h2.5M1012 802h2.5M912 804h2.5M936 803h2.5M938 803h2.5M941 804h2.5M946 803h2.5M969 803h2.5M975 803h2.5M984 804h2.5M992 803h2.5M997 803h2.5M1022 803h2.5M1023 803h2.5M872 805h2.5M879 805h2.5M882 805h2.5M884 805h2.5M912 805h2.5M914 804h2.5M916 805h2.5M940 804h2.5M942 805h2.5M944 805h2.5M954 804h2.5M960 805h2.5M964 804h2.5M965 805h2.5M978 804h2.5M991 804h2.5M991 804h2.5M1016 804h2.5M1027 804h2.5M877 805h2.5M884 805h2.5M892 806h2.5M897 805h2.5M902 805h2.5M906 805h2.5M913 805h2.5M921 805h2.5M927 805h2.5M946 806h2.5M948 805h2.5M957 806h2.5M972 805h2.5M986 805h2.5M989 806h2.5M995 806h2.5M913 807h2.5M915 806h2.5M921 807h2.5M926 806h2.5M932 807h2.5M936 807h2.5M946 806h2.5M959 806h2.5M964 807h2.5M973 806h2.5M977 806h2.5M978 806h2.5M978 807h2.5M979 806h2.5M989 807h2.5M989 807h2.5M992 807h2.5M999 807h2.5M1007 806h2.5M1008 807h2.5M1018 807h2.5M1019 807h2.5M895 808h2.5M946 808h2.5M955 807h2.5M988 807h2.5M995 807h2.5M999 807h2.5M1001 807h2.5M1003 808h2.5M1003 807h2.5M1006 808h2.5M868 809h2.5M885 808h2.5M918 809h2.5M920 808h2.5M933 809h2.5M947 809h2.5M962 808h2.5M971 809h2.5M976 809h2.5M983 808h2.5M995 809h2.5M999 808h2.5M1002 809h2.5M1005 808h2.5M896 810h2.5M903 809h2.5M930 810h2.5M951 810h2.5M953 809h2.5M962 809h2.5M967 810h2.5M980 810h2.5M983 809h2.5M989 810h2.5M996 810h2.5M1016 809h2.5M872 810h2.5M886 810h2.5M888 811h2.5M907 811h2.5M908 811h2.5M920 811h2.5M920 810h2.5M924 811h2.5M931 811h2.5M931 811h2.5M939 811h2.5M946 810h2.5M948 811h2.5M962 811h2.5M971 811h2.5M972 810h2.5M974 811h2.5M977 811h2.5M982 810h2.5M983 811h2.5M985 810h2.5M1003 811h2.5M1004 810h2.5M871 812h2.5M920 812h2.5M921 811h2.5M935 812h2.5M951 812h2.5M961 811h2.5M974 811h2.5M974 811h2.5M983 812h2.5M986 811h2.5M992 812h2.5M995 812h2.5M999 812h2.5M999 812h2.5M1002 811h2.5M1008 812h2.5M866 812h2.5M871 812h2.5M895 813h2.5M918 813h2.5M923 812h2.5M926 812h2.5M941 813h2.5M945 813h2.5M947 812h2.5M949 813h2.5M970 813h2.5M976 813h2.5M979 812h2.5M981 812h2.5M983 813h2.5M988 812h2.5M990 813h2.5M991 813h2.5M997 812h2.5M1000 812h2.5M1001 812h2.5M1002 813h2.5M1014 813h2.5M1028 813h2.5M910 813h2.5M919 813h2.5M919 814h2.5M921 814h2.5M931 813h2.5M931 813h2.5M937 814h2.5M954 813h2.5M968 814h2.5M980 814h2.5M982 814h2.5M983 813h2.5M984 814h2.5M986 813h2.5M987 814h2.5M990 813h2.5M991 813h2.5M994 814h2.5M999 814h2.5M999 814h2.5M1003 813h2.5M1004 814h2.5M1006 813h2.5M1011 813h2.5M1014 814h2.5M1025 813h2.5M870 814h2.5M897 814h2.5M913 814h2.5M925 815h2.5M930 814h2.5M933 814h2.5M935 814h2.5M942 814h2.5M951 814h2.5M956 814h2.5M956 814h2.5M957 815h2.5M959 814h2.5M967 815h2.5M967 814h2.5M982 815h2.5M985 815h2.5M985 815h2.5M996 814h2.5M1004 814h2.5M1008 815h2.5M1018 815h2.5M888 815h2.5M898 816h2.5M913 815h2.5M913 816h2.5M920 816h2.5M927 816h2.5M929 815h2.5M931 816h2.5M934 815h2.5M938 816h2.5M942 816h2.5M947 815h2.5M948 815h2.5M951 816h2.5M953 816h2.5M955 815h2.5M960 815h2.5M961 816h2.5M968 816h2.5M969 816h2.5M979 816h2.5M987 815h2.5M990 815h2.5M992 816h2.5M995 816h2.5M997 816h2.5M1005 815h2.5M1005 815h2.5M1008 816h2.5M1009 815h2.5M1014 815h2.5M908 816h2.5M919 816h2.5M920 817h2.5M920 816h2.5M933 817h2.5M937 816h2.5M939 817h2.5M943 817h2.5M946 817h2.5M950 817h2.5M955 816h2.5M961 817h2.5M963 817h2.5M971 817h2.5M974 817h2.5M979 816h2.5M981 816h2.5M982 816h2.5M985 817h2.5M993 816h2.5M994 817h2.5M996 816h2.5M1000 816h2.5M1002 816h2.5M1020 817h2.5M914 817h2.5M924 817h2.5M933 817h2.5M934 817h2.5M939 818h2.5M941 817h2.5M943 818h2.5M946 817h2.5M948 817h2.5M950 817h2.5M956 817h2.5M956 818h2.5M959 817h2.5M964 817h2.5M970 817h2.5M976 817h2.5M977 817h2.5M981 817h2.5M982 817h2.5M984 818h2.5M990 818h2.5M991 817h2.5M997 818h2.5M1001 818h2.5M883 819h2.5M884 818h2.5M905 819h2.5M925 819h2.5M937 818h2.5M939 818h2.5M949 818h2.5M949 819h2.5M954 818h2.5M959 819h2.5M963 819h2.5M971 819h2.5M973 818h2.5M976 819h2.5M982 818h2.5M982 819h2.5M986 819h2.5M996 818h2.5M999 819h2.5M999 818h2.5M1000 818h2.5M1016 819h2.5M1017 818h2.5M1022 819h2.5M881 820h2.5M886 819h2.5M897 819h2.5M903 819h2.5M917 820h2.5M942 819h2.5M948 820h2.5M951 820h2.5M958 819h2.5M958 820h2.5M959 820h2.5M961 820h2.5M962 820h2.5M971 820h2.5M986 819h2.5M993 819h2.5M999 820h2.5M1002 820h2.5M1002 819h2.5M1011 819h2.5M1019 819h2.5M905 820h2.5M919 820h2.5M938 820h2.5M939 820h2.5M940 821h2.5M946 821h2.5M946 820h2.5M948 820h2.5M949 821h2.5M952 821h2.5M957 820h2.5M958 821h2.5M960 821h2.5M965 820h2.5M979 820h2.5M981 821h2.5M982 821h2.5M999 821h2.5M1008 820h2.5M1014 820h2.5M1021 820h2.5M1023 820h2.5M885 821h2.5M905 822h2.5M920 822h2.5M931 821h2.5M935 822h2.5M937 822h2.5M938 821h2.5M941 821h2.5M944 821h2.5M947 821h2.5M949 821h2.5M953 822h2.5M954 821h2.5M958 822h2.5M961 821h2.5M963 822h2.5M965 821h2.5M974 822h2.5M975 821h2.5M979 822h2.5M987 822h2.5M998 821h2.5M999 822h2.5M878 822h2.5M926 823h2.5M926 823h2.5M931 823h2.5M936 823h2.5M940 822h2.5M945 823h2.5M948 823h2.5M951 823h2.5M952 822h2.5M955 822h2.5M958 823h2.5M961 822h2.5M962 822h2.5M969 822h2.5M970 823h2.5M975 823h2.5M976 823h2.5M982 823h2.5M984 823h2.5M992 823h2.5M1001 823h2.5M1006 823h2.5M1007 822h2.5M1018 822h2.5M877 823h2.5M905 823h2.5M908 823h2.5M917 824h2.5M930 823h2.5M934 823h2.5M939 824h2.5M943 824h2.5M945 823h2.5M948 824h2.5M953 824h2.5M957 823h2.5M957 823h2.5M959 823h2.5M975 823h2.5M978 823h2.5M983 823h2.5M988 823h2.5M989 824h2.5M990 824h2.5M992 823h2.5M994 824h2.5M997 823h2.5M861 825h2.5M869 825h2.5M896 824h2.5M930 824h2.5M932 825h2.5M940 824h2.5M943 825h2.5M944 825h2.5M951 824h2.5M953 825h2.5M954 824h2.5M956 824h2.5M960 824h2.5M969 825h2.5M972 825h2.5M979 825h2.5M984 825h2.5M990 824h2.5M995 825h2.5M999 825h2.5M1001 824h2.5M1015 824h2.5M1024 825h2.5M1024 824h2.5M850 826h2.5M880 826h2.5M902 826h2.5M938 825h2.5M944 825h2.5M948 826h2.5M953 825h2.5M955 826h2.5M957 826h2.5M961 825h2.5M966 826h2.5M980 826h2.5M986 825h2.5M1004 826h2.5M1006 825h2.5M1007 825h2.5M1009 826h2.5M1014 825h2.5M863 826h2.5M872 826h2.5M883 826h2.5M888 827h2.5M890 827h2.5M901 827h2.5M906 827h2.5M912 826h2.5M914 826h2.5M919 826h2.5M933 827h2.5M936 826h2.5M939 826h2.5M943 826h2.5M947 827h2.5M953 827h2.5M955 827h2.5M958 826h2.5M959 826h2.5M959 826h2.5M962 827h2.5M962 827h2.5M964 827h2.5M973 827h2.5M977 826h2.5M980 827h2.5M983 827h2.5M985 827h2.5M988 827h2.5M989 827h2.5M999 827h2.5M1004 827h2.5M877 828h2.5M899 828h2.5M930 828h2.5M942 828h2.5M944 827h2.5M947 828h2.5M950 827h2.5M952 827h2.5M953 827h2.5M954 828h2.5M955 827h2.5M959 827h2.5M962 828h2.5M962 827h2.5M967 827h2.5M967 828h2.5M983 828h2.5M984 827h2.5M993 828h2.5M994 827h2.5M1001 828h2.5M1002 827h2.5M1003 827h2.5M1007 827h2.5M1013 828h2.5M1015 828h2.5M1039 827h2.5M859 829h2.5M880 828h2.5M891 829h2.5M899 829h2.5M912 829h2.5M914 829h2.5M933 828h2.5M938 829h2.5M939 829h2.5M942 829h2.5M945 829h2.5M948 829h2.5M950 828h2.5M951 828h2.5M951 829h2.5M957 828h2.5M960 828h2.5M973 829h2.5M981 829h2.5M981 828h2.5M995 828h2.5M997 828h2.5M999 829h2.5M1000 828h2.5M1001 829h2.5M1004 828h2.5M1005 829h2.5M1007 829h2.5M863 830h2.5M880 830h2.5M897 829h2.5M904 829h2.5M918 829h2.5M928 830h2.5M932 830h2.5M932 830h2.5M933 829h2.5M936 829h2.5M938 829h2.5M942 830h2.5M943 829h2.5M945 830h2.5M946 830h2.5M952 830h2.5M953 830h2.5M954 830h2.5M955 829h2.5M957 830h2.5M958 830h2.5M960 829h2.5M966 829h2.5M968 830h2.5M969 829h2.5M970 829h2.5M975 830h2.5M977 829h2.5M988 829h2.5M993 830h2.5M996 829h2.5M999 830h2.5M1001 829h2.5M1005 830h2.5M1011 830h2.5M1018 829h2.5M881 831h2.5M883 830h2.5M901 830h2.5M907 831h2.5M911 830h2.5M929 830h2.5M937 831h2.5M942 830h2.5M943 830h2.5M944 831h2.5M947 830h2.5M949 830h2.5M952 830h2.5M953 830h2.5M955 831h2.5M956 831h2.5M957 831h2.5M959 831h2.5M960 831h2.5M961 830h2.5M963 831h2.5M969 830h2.5M972 831h2.5M975 831h2.5M986 831h2.5M998 831h2.5M1003 831h2.5M847 831h2.5M870 831h2.5M875 831h2.5M880 832h2.5M887 831h2.5M901 831h2.5M902 832h2.5M919 832h2.5M929 831h2.5M939 832h2.5M939 831h2.5M940 832h2.5M944 832h2.5M945 831h2.5M948 832h2.5M953 831h2.5M953 832h2.5M956 831h2.5M956 832h2.5M959 831h2.5M970 832h2.5M970 832h2.5M973 831h2.5M990 831h2.5M992 832h2.5M1002 832h2.5M1009 832h2.5M1014 831h2.5M1021 832h2.5M844 832h2.5M883 832h2.5M884 833h2.5M885 833h2.5M898 832h2.5M902 832h2.5M911 832h2.5M915 832h2.5M931 832h2.5M936 832h2.5M937 832h2.5M938 833h2.5M940 833h2.5M940 832h2.5M943 833h2.5M948 833h2.5M949 832h2.5M953 833h2.5M953 833h2.5M957 832h2.5M959 832h2.5M967 833h2.5M975 832h2.5M987 832h2.5M989 833h2.5M996 833h2.5M1002 833h2.5M1007 833h2.5M1010 833h2.5M1021 833h2.5M849 833h2.5M875 833h2.5M883 834h2.5M897 834h2.5M908 833h2.5M912 833h2.5M912 834h2.5M914 833h2.5M926 833h2.5M933 833h2.5M938 834h2.5M938 833h2.5M940 834h2.5M943 833h2.5M947 834h2.5M948 833h2.5M950 834h2.5M954 834h2.5M956 833h2.5M958 834h2.5M960 833h2.5M961 833h2.5M961 834h2.5M966 834h2.5M969 834h2.5M981 834h2.5M983 833h2.5M987 834h2.5M993 834h2.5M993 834h2.5M998 833h2.5M1000 833h2.5M1003 833h2.5M1005 833h2.5M1013 834h2.5M1025 833h2.5M862 835h2.5M866 834h2.5M869 834h2.5M879 835h2.5M891 834h2.5M893 835h2.5M901 835h2.5M907 835h2.5M910 835h2.5M911 835h2.5M912 835h2.5M918 835h2.5M927 835h2.5M934 835h2.5M935 834h2.5M937 835h2.5M939 835h2.5M942 834h2.5M943 834h2.5M943 835h2.5M946 834h2.5M948 834h2.5M950 835h2.5M952 834h2.5M954 835h2.5M958 835h2.5M960 835h2.5M961 834h2.5M965 835h2.5M984 835h2.5M986 834h2.5M987 835h2.5M991 834h2.5M993 835h2.5M996 834h2.5M1000 834h2.5M1003 835h2.5M1006 834h2.5M1008 835h2.5M1011 834h2.5M1022 835h2.5M1030 834h2.5M852 835h2.5M856 835h2.5M862 835h2.5M877 835h2.5M900 836h2.5M900 836h2.5M906 836h2.5M907 836h2.5M908 835h2.5M915 835h2.5M916 836h2.5M918 836h2.5M925 835h2.5M934 835h2.5M937 836h2.5M944 835h2.5M945 836h2.5M948 836h2.5M951 835h2.5M954 835h2.5M957 835h2.5M961 836h2.5M962 835h2.5M995 836h2.5M997 836h2.5M999 836h2.5M1003 836h2.5M1008 836h2.5M1016 835h2.5M1021 836h2.5M863 836h2.5M867 836h2.5M868 837h2.5M873 836h2.5M888 837h2.5M898 836h2.5M899 836h2.5M905 836h2.5M911 836h2.5M913 836h2.5M917 837h2.5M917 836h2.5M919 836h2.5M929 836h2.5M936 836h2.5M941 837h2.5M943 836h2.5M944 837h2.5M945 836h2.5M950 836h2.5M954 837h2.5M956 837h2.5M957 837h2.5M957 836h2.5M958 837h2.5M960 837h2.5M964 836h2.5M967 836h2.5M974 837h2.5M977 837h2.5M978 837h2.5M980 836h2.5M987 836h2.5M991 836h2.5M995 836h2.5M999 837h2.5M1006 836h2.5M1009 837h2.5M1026 836h2.5M865 838h2.5M879 838h2.5M882 838h2.5M897 838h2.5M899 838h2.5M900 837h2.5M902 837h2.5M903 838h2.5M904 838h2.5M908 838h2.5M910 837h2.5M910 837h2.5M913 838h2.5M922 838h2.5M924 838h2.5M928 837h2.5M937 838h2.5M940 837h2.5M941 837h2.5M947 837h2.5M948 837h2.5M949 838h2.5M952 838h2.5M953 838h2.5M955 837h2.5M956 837h2.5M958 838h2.5M962 838h2.5M962 837h2.5M966 838h2.5M976 837h2.5M982 838h2.5M985 837h2.5M989 837h2.5M995 837h2.5M1002 837h2.5M1003 838h2.5M1005 837h2.5M1011 837h2.5M1012 837h2.5M1015 838h2.5M1016 838h2.5M1019 837h2.5M863 838h2.5M901 839h2.5M902 838h2.5M910 839h2.5M910 839h2.5M914 839h2.5M914 838h2.5M915 839h2.5M916 839h2.5M917 838h2.5M919 838h2.5M920 838h2.5M921 839h2.5M924 838h2.5M926 839h2.5M931 838h2.5M936 839h2.5M938 838h2.5M940 838h2.5M941 839h2.5M943 839h2.5M947 839h2.5M948 838h2.5M950 838h2.5M952 839h2.5M954 838h2.5M954 839h2.5M958 838h2.5M960 839h2.5M964 838h2.5M964 838h2.5M966 839h2.5M967 839h2.5M968 839h2.5M971 838h2.5M976 839h2.5M982 839h2.5M984 839h2.5M984 839h2.5M995 838h2.5M996 838h2.5M998 839h2.5M998 838h2.5M1000 838h2.5M1004 838h2.5M1006 838h2.5M1013 839h2.5M1016 839h2.5M858 840h2.5M863 840h2.5M879 839h2.5M899 839h2.5M901 839h2.5M901 839h2.5M903 839h2.5M904 840h2.5M904 839h2.5M906 839h2.5M908 840h2.5M912 839h2.5M912 840h2.5M915 839h2.5M916 839h2.5M922 839h2.5M928 840h2.5M936 840h2.5M939 840h2.5M939 840h2.5M941 839h2.5M942 840h2.5M945 840h2.5M945 839h2.5M948 839h2.5M949 840h2.5M950 839h2.5M959 839h2.5M962 840h2.5M963 839h2.5M963 839h2.5M965 839h2.5M967 840h2.5M981 839h2.5M987 839h2.5M998 840h2.5M1017 840h2.5M1022 840h2.5M1023 840h2.5M852 840h2.5M873 841h2.5M875 840h2.5M884 840h2.5M890 840h2.5M897 841h2.5M898 840h2.5M903 841h2.5M904 841h2.5M905 840h2.5M907 841h2.5M908 841h2.5M908 841h2.5M909 841h2.5M913 841h2.5M915 840h2.5M921 841h2.5M922 841h2.5M922 840h2.5M926 841h2.5M931 840h2.5M934 841h2.5M936 840h2.5M943 840h2.5M946 841h2.5M946 840h2.5M948 840h2.5M952 840h2.5M955 841h2.5M960 841h2.5M976 840h2.5M986 841h2.5M988 841h2.5M993 841h2.5M995 841h2.5M1007 840h2.5M1017 841h2.5M1017 841h2.5M861 841h2.5M862 841h2.5M864 841h2.5M872 842h2.5M884 842h2.5M887 842h2.5M893 842h2.5M900 841h2.5M902 841h2.5M905 841h2.5M907 841h2.5M907 841h2.5M909 842h2.5M911 842h2.5M912 841h2.5M913 841h2.5M918 842h2.5M919 842h2.5M928 842h2.5M931 842h2.5M940 841h2.5M942 841h2.5M943 841h2.5M947 841h2.5M951 841h2.5M961 842h2.5M962 842h2.5M963 842h2.5M969 842h2.5M979 841h2.5M998 841h2.5M999 842h2.5M1002 841h2.5M1008 842h2.5M1016 842h2.5M1023 841h2.5M1026 841h2.5M1028 841h2.5M855 843h2.5M868 843h2.5M872 843h2.5M875 842h2.5M879 843h2.5M880 843h2.5M891 843h2.5M895 842h2.5M900 842h2.5M902 842h2.5M903 843h2.5M905 842h2.5M911 843h2.5M912 842h2.5M913 843h2.5M916 843h2.5M918 842h2.5M919 843h2.5M928 843h2.5M930 842h2.5M935 842h2.5M939 842h2.5M941 842h2.5M944 843h2.5M947 843h2.5M948 843h2.5M951 842h2.5M954 843h2.5M954 843h2.5M959 843h2.5M960 842h2.5M961 842h2.5M961 842h2.5M965 843h2.5M967 842h2.5M971 843h2.5M973 843h2.5M977 843h2.5M980 842h2.5M984 842h2.5M986 842h2.5M995 842h2.5M998 842h2.5M998 842h2.5M1003 842h2.5M1016 842h2.5M1020 842h2.5M867 843h2.5M877 843h2.5M896 844h2.5M897 843h2.5M898 843h2.5M899 844h2.5M901 844h2.5M902 843h2.5M902 843h2.5M904 844h2.5M905 843h2.5M906 843h2.5M908 844h2.5M911 843h2.5M911 843h2.5M914 844h2.5M916 843h2.5M917 844h2.5M918 844h2.5M920 844h2.5M921 843h2.5M922 844h2.5M927 844h2.5M928 843h2.5M933 843h2.5M934 843h2.5M935 843h2.5M941 843h2.5M944 843h2.5M946 844h2.5M948 844h2.5M951 843h2.5M951 844h2.5M954 843h2.5M959 844h2.5M961 844h2.5M963 844h2.5M964 843h2.5M967 843h2.5M971 843h2.5M974 843h2.5M987 844h2.5M988 844h2.5M990 843h2.5M991 844h2.5M991 843h2.5M995 843h2.5M997 843h2.5M998 844h2.5M1001 844h2.5M1002 843h2.5M1010 844h2.5M1021 843h2.5M847 844h2.5M892 845h2.5M892 845h2.5M898 844h2.5M901 845h2.5M903 844h2.5M905 845h2.5M907 845h2.5M908 845h2.5M910 845h2.5M911 844h2.5M912 845h2.5M914 845h2.5M915 844h2.5M917 845h2.5M924 844h2.5M925 844h2.5M926 845h2.5M932 845h2.5M933 844h2.5M935 844h2.5M937 844h2.5M938 845h2.5M939 845h2.5M941 844h2.5M941 845h2.5M943 844h2.5M945 844h2.5M948 844h2.5M951 845h2.5M953 844h2.5M954 844h2.5M956 844h2.5M956 844h2.5M957 845h2.5M959 845h2.5M965 844h2.5M967 844h2.5M968 845h2.5M971 845h2.5M976 845h2.5M985 845h2.5M985 844h2.5M990 844h2.5M1005 845h2.5M1007 845h2.5M1012 844h2.5M1017 845h2.5M1023 845h2.5M1039 844h2.5M877 845h2.5M888 846h2.5M898 845h2.5M900 845h2.5M904 846h2.5M905 845h2.5M907 846h2.5M910 845h2.5M914 846h2.5M918 845h2.5M920 846h2.5M924 845h2.5M927 845h2.5M930 845h2.5M930 846h2.5M933 845h2.5M938 845h2.5M947 845h2.5M948 845h2.5M950 845h2.5M951 845h2.5M953 846h2.5M954 845h2.5M958 846h2.5M959 846h2.5M978 846h2.5M980 846h2.5M981 846h2.5M982 845h2.5M986 845h2.5M989 845h2.5M992 845h2.5M996 845h2.5M996 845h2.5M999 845h2.5M1001 845h2.5M1023 845h2.5M1024 846h2.5M1030 846h2.5M850 847h2.5M870 846h2.5M875 847h2.5M897 846h2.5M897 847h2.5M899 847h2.5M900 846h2.5M900 847h2.5M903 846h2.5M904 846h2.5M906 846h2.5M907 846h2.5M908 846h2.5M908 846h2.5M909 846h2.5M914 846h2.5M916 847h2.5M922 846h2.5M932 846h2.5M933 846h2.5M936 846h2.5M942 847h2.5M944 846h2.5M945 846h2.5M948 846h2.5M952 846h2.5M955 847h2.5M955 847h2.5M957 847h2.5M958 847h2.5M962 846h2.5M965 847h2.5M970 846h2.5M973 846h2.5M974 846h2.5M978 847h2.5M982 846h2.5M986 846h2.5M994 846h2.5M996 847h2.5M997 846h2.5M998 846h2.5M1000 847h2.5M1003 846h2.5M1006 846h2.5M1007 847h2.5M855 848h2.5M866 848h2.5M874 848h2.5M893 848h2.5M897 848h2.5M901 847h2.5M907 848h2.5M909 848h2.5M910 848h2.5M911 847h2.5M913 847h2.5M917 848h2.5M919 847h2.5M920 847h2.5M923 848h2.5M927 848h2.5M933 848h2.5M934 847h2.5M937 848h2.5M937 847h2.5M942 847h2.5M947 847h2.5M947 847h2.5M948 847h2.5M958 847h2.5M961 847h2.5M964 848h2.5M964 847h2.5M970 848h2.5M971 847h2.5M975 848h2.5M982 847h2.5M986 847h2.5M988 848h2.5M990 848h2.5M997 848h2.5M1001 847h2.5M1002 847h2.5M1008 848h2.5M1024 848h2.5M847 848h2.5M853 849h2.5M874 848h2.5M895 849h2.5M897 849h2.5M899 849h2.5M900 848h2.5M902 848h2.5M904 848h2.5M905 848h2.5M905 849h2.5M906 848h2.5M908 849h2.5M909 849h2.5M910 848h2.5M911 849h2.5M914 849h2.5M916 848h2.5M916 849h2.5M918 848h2.5M920 848h2.5M922 848h2.5M922 848h2.5M923 848h2.5M928 848h2.5M929 849h2.5M937 848h2.5M945 849h2.5M948 848h2.5M948 848h2.5M950 848h2.5M952 848h2.5M955 848h2.5M957 848h2.5M960 848h2.5M966 848h2.5M970 849h2.5M973 849h2.5M976 849h2.5M983 848h2.5M987 848h2.5M1002 848h2.5M1008 849h2.5M1008 848h2.5M858 849h2.5M869 850h2.5M871 850h2.5M876 850h2.5M899 850h2.5M899 850h2.5M901 849h2.5M904 849h2.5M905 849h2.5M909 850h2.5M911 850h2.5M911 850h2.5M914 850h2.5M917 849h2.5M917 849h2.5M920 850h2.5M921 850h2.5M924 850h2.5M931 850h2.5M933 849h2.5M935 849h2.5M937 849h2.5M939 850h2.5M943 850h2.5M944 849h2.5M948 849h2.5M950 849h2.5M957 850h2.5M959 850h2.5M963 850h2.5M979 850h2.5M982 850h2.5M983 850h2.5M986 850h2.5M991 849h2.5M994 849h2.5M995 850h2.5M996 850h2.5M1002 850h2.5M1019 849h2.5M1025 849h2.5M1033 849h2.5M850 851h2.5M863 850h2.5M864 850h2.5M879 850h2.5M886 851h2.5M889 850h2.5M894 850h2.5M896 850h2.5M898 850h2.5M901 851h2.5M903 850h2.5M904 851h2.5M905 850h2.5M908 850h2.5M910 850h2.5M920 850h2.5M921 850h2.5M927 850h2.5M931 851h2.5M936 850h2.5M938 851h2.5M940 850h2.5M942 851h2.5M942 851h2.5M944 850h2.5M949 851h2.5M950 850h2.5M952 850h2.5M952 850h2.5M953 851h2.5M957 850h2.5M959 851h2.5M964 850h2.5M965 851h2.5M976 851h2.5M981 850h2.5M986 850h2.5M987 851h2.5M989 851h2.5M992 851h2.5M997 850h2.5M1002 850h2.5M1011 850h2.5M1013 850h2.5M1019 850h2.5M856 852h2.5M856 851h2.5M865 851h2.5M874 852h2.5M893 852h2.5M896 851h2.5M898 852h2.5M899 852h2.5M899 852h2.5M907 852h2.5M909 852h2.5M909 851h2.5M911 851h2.5M913 851h2.5M917 852h2.5M920 851h2.5M921 851h2.5M921 852h2.5M923 851h2.5M924 852h2.5M933 852h2.5M936 851h2.5M941 852h2.5M946 852h2.5M949 852h2.5M952 852h2.5M957 852h2.5M959 852h2.5M962 851h2.5M976 852h2.5M982 852h2.5M983 852h2.5M990 851h2.5M997 852h2.5M998 852h2.5M1003 852h2.5M1028 852h2.5M899 853h2.5M906 853h2.5M907 852h2.5M910 853h2.5M911 852h2.5M912 853h2.5M912 853h2.5M913 852h2.5M914 853h2.5M915 853h2.5M916 852h2.5M919 852h2.5M925 852h2.5M925 852h2.5M931 852h2.5M933 852h2.5M935 853h2.5M937 853h2.5M937 853h2.5M939 853h2.5M945 852h2.5M947 852h2.5M951 853h2.5M956 853h2.5M958 852h2.5M963 852h2.5M968 852h2.5M969 852h2.5M978 852h2.5M980 852h2.5M984 852h2.5M986 853h2.5M989 853h2.5M989 852h2.5M990 852h2.5M993 853h2.5M1009 852h2.5M1012 852h2.5M1025 853h2.5M1027 852h2.5M859 854h2.5M881 853h2.5M892 853h2.5M894 853h2.5M896 854h2.5M899 853h2.5M900 853h2.5M902 853h2.5M903 853h2.5M905 853h2.5M905 853h2.5M907 853h2.5M911 853h2.5M916 854h2.5M916 854h2.5M918 853h2.5M921 854h2.5M929 853h2.5M933 853h2.5M934 853h2.5M937 854h2.5M938 854h2.5M940 854h2.5M941 854h2.5M943 853h2.5M945 853h2.5M946 854h2.5M947 853h2.5M949 853h2.5M950 853h2.5M952 853h2.5M955 853h2.5M961 853h2.5M974 853h2.5M974 854h2.5M975 854h2.5M985 854h2.5M991 853h2.5M1008 854h2.5M1011 854h2.5M1014 853h2.5M1016 854h2.5M853 855h2.5M864 854h2.5M892 854h2.5M899 854h2.5M900 854h2.5M902 854h2.5M903 854h2.5M905 854h2.5M905 854h2.5M906 854h2.5M908 855h2.5M909 855h2.5M917 854h2.5M917 854h2.5M919 855h2.5M923 854h2.5M929 855h2.5M932 855h2.5M934 854h2.5M941 854h2.5M944 854h2.5M945 854h2.5M952 855h2.5M953 855h2.5M955 854h2.5M960 855h2.5M960 855h2.5M965 854h2.5M966 855h2.5M977 854h2.5M983 854h2.5M985 854h2.5M987 854h2.5M989 854h2.5M994 855h2.5M1001 854h2.5M1004 854h2.5M1006 855h2.5M1018 855h2.5M1024 854h2.5M865 856h2.5M873 856h2.5M886 856h2.5M893 855h2.5M895 856h2.5M898 856h2.5M899 855h2.5M900 855h2.5M900 855h2.5M902 856h2.5M909 855h2.5M911 855h2.5M916 856h2.5M919 856h2.5M936 855h2.5M936 855h2.5M939 856h2.5M940 856h2.5M944 855h2.5M947 855h2.5M949 855h2.5M953 856h2.5M953 855h2.5M963 856h2.5M978 855h2.5M982 856h2.5M983 856h2.5M997 855h2.5M1007 856h2.5M1014 856h2.5M1015 855h2.5M1016 856h2.5M852 856h2.5M857 857h2.5M876 856h2.5M889 857h2.5M899 857h2.5M901 856h2.5M902 856h2.5M902 856h2.5M905 856h2.5M906 857h2.5M906 857h2.5M907 856h2.5M908 857h2.5M912 857h2.5M914 857h2.5M917 856h2.5M918 856h2.5M918 857h2.5M921 857h2.5M921 856h2.5M923 856h2.5M924 856h2.5M933 856h2.5M935 856h2.5M936 857h2.5M939 857h2.5M941 856h2.5M944 857h2.5M944 856h2.5M946 856h2.5M948 857h2.5M950 857h2.5M954 856h2.5M954 857h2.5M955 857h2.5M957 856h2.5M962 857h2.5M967 856h2.5M969 857h2.5M984 856h2.5M994 857h2.5M997 856h2.5M998 857h2.5M1001 856h2.5M1016 856h2.5M1018 856h2.5M847 858h2.5M856 857h2.5M875 857h2.5M896 857h2.5M898 857h2.5M899 857h2.5M903 858h2.5M904 858h2.5M906 858h2.5M912 858h2.5M915 858h2.5M915 857h2.5M917 858h2.5M926 857h2.5M927 857h2.5M933 858h2.5M934 858h2.5M937 858h2.5M938 858h2.5M938 858h2.5M940 857h2.5M942 857h2.5M945 858h2.5M949 858h2.5M953 857h2.5M955 858h2.5M958 858h2.5M962 858h2.5M966 857h2.5M968 857h2.5M978 857h2.5M984 857h2.5M988 857h2.5M992 857h2.5M996 858h2.5M1005 858h2.5M1005 857h2.5M1025 857h2.5M849 858h2.5M851 858h2.5M852 858h2.5M856 858h2.5M867 858h2.5M870 859h2.5M879 858h2.5M879 858h2.5M890 858h2.5M894 858h2.5M897 859h2.5M899 859h2.5M899 859h2.5M901 858h2.5M902 858h2.5M903 859h2.5M904 859h2.5M906 858h2.5M906 858h2.5M909 858h2.5M909 859h2.5M910 859h2.5M912 858h2.5M913 858h2.5M918 859h2.5M919 858h2.5M920 858h2.5M924 858h2.5M933 858h2.5M935 859h2.5M936 858h2.5M937 858h2.5M938 859h2.5M940 858h2.5M944 859h2.5M945 859h2.5M949 859h2.5M951 858h2.5M956 859h2.5M957 859h2.5M959 859h2.5M960 859h2.5M961 859h2.5M964 858h2.5M966 858h2.5M970 859h2.5M971 858h2.5M973 859h2.5M979 859h2.5M987 858h2.5M995 859h2.5M999 858h2.5M1001 858h2.5M1003 859h2.5M1010 859h2.5M855 859h2.5M860 859h2.5M861 860h2.5M900 859h2.5M902 860h2.5M902 859h2.5M903 859h2.5M905 860h2.5M906 859h2.5M909 859h2.5M911 859h2.5M916 859h2.5M917 860h2.5M920 860h2.5M923 860h2.5M924 860h2.5M926 859h2.5M928 860h2.5M929 859h2.5M930 860h2.5M934 860h2.5M935 860h2.5M936 860h2.5M938 860h2.5M938 860h2.5M940 860h2.5M942 859h2.5M943 860h2.5M955 859h2.5M956 860h2.5M969 859h2.5M971 859h2.5M972 860h2.5M972 860h2.5M981 860h2.5M986 860h2.5M990 859h2.5M991 860h2.5M994 859h2.5M999 859h2.5M1001 860h2.5M1002 860h2.5M1004 860h2.5M1005 860h2.5M1006 859h2.5M1009 860h2.5M1016 859h2.5M849 861h2.5M901 860h2.5M907 860h2.5M908 861h2.5M908 860h2.5M910 861h2.5M912 860h2.5M913 861h2.5M914 861h2.5M917 861h2.5M921 860h2.5M922 860h2.5M925 860h2.5M925 860h2.5M926 860h2.5M930 860h2.5M931 861h2.5M932 861h2.5M934 860h2.5M935 861h2.5M938 861h2.5M944 860h2.5M951 860h2.5M953 861h2.5M955 861h2.5M957 860h2.5M958 860h2.5M958 861h2.5M976 861h2.5M985 861h2.5M986 861h2.5M989 860h2.5M990 860h2.5M991 860h2.5M997 861h2.5M1004 861h2.5M1014 861h2.5M1018 861h2.5M867 862h2.5M882 861h2.5M888 861h2.5M894 861h2.5M896 862h2.5M896 862h2.5M900 862h2.5M901 862h2.5M902 862h2.5M905 861h2.5M905 861h2.5M906 862h2.5M912 861h2.5M913 862h2.5M915 861h2.5M917 862h2.5M917 861h2.5M919 862h2.5M923 861h2.5M925 861h2.5M927 862h2.5M929 862h2.5M932 862h2.5M935 862h2.5M945 862h2.5M947 862h2.5M949 861h2.5M949 861h2.5M951 862h2.5M956 861h2.5M957 861h2.5M965 861h2.5M966 862h2.5M968 862h2.5M973 862h2.5M993 862h2.5M995 862h2.5M1002 861h2.5M1005 862h2.5M1019 861h2.5M1022 862h2.5M857 863h2.5M871 862h2.5M885 862h2.5M892 863h2.5M901 862h2.5M902 862h2.5M904 863h2.5M906 863h2.5M909 863h2.5M909 862h2.5M910 862h2.5M915 863h2.5M915 862h2.5M918 862h2.5M918 862h2.5M920 862h2.5M921 863h2.5M926 862h2.5M928 863h2.5M929 862h2.5M930 862h2.5M932 862h2.5M934 863h2.5M949 862h2.5M950 863h2.5M951 863h2.5M952 863h2.5M955 862h2.5M959 862h2.5M959 862h2.5M960 862h2.5M965 862h2.5M978 863h2.5M984 863h2.5M990 863h2.5M1000 862h2.5M1029 863h2.5M846 864h2.5M869 863h2.5M891 863h2.5M895 863h2.5M897 864h2.5M901 864h2.5M902 864h2.5M903 864h2.5M903 864h2.5M905 863h2.5M906 863h2.5M907 863h2.5M908 863h2.5M912 864h2.5M913 864h2.5M915 864h2.5M916 864h2.5M917 863h2.5M919 863h2.5M920 864h2.5M921 864h2.5M922 864h2.5M925 863h2.5M928 863h2.5M932 863h2.5M933 864h2.5M934 864h2.5M936 864h2.5M937 864h2.5M945 863h2.5M948 863h2.5M948 863h2.5M954 863h2.5M958 863h2.5M960 864h2.5M961 863h2.5M967 863h2.5M973 863h2.5M977 864h2.5M978 863h2.5M990 864h2.5M993 864h2.5M994 863h2.5M996 863h2.5M1000 864h2.5M1002 864h2.5M1003 863h2.5M1005 863h2.5M1010 863h2.5M1014 864h2.5M1017 864h2.5M1026 863h2.5M860 865h2.5M875 864h2.5M880 864h2.5M893 865h2.5M897 864h2.5M901 865h2.5M903 864h2.5M904 864h2.5M905 864h2.5M908 865h2.5M909 864h2.5M910 865h2.5M914 865h2.5M914 864h2.5M915 864h2.5M920 864h2.5M921 864h2.5M922 865h2.5M923 865h2.5M926 865h2.5M929 864h2.5M935 865h2.5M938 865h2.5M938 864h2.5M951 864h2.5M956 864h2.5M957 865h2.5M958 865h2.5M963 865h2.5M964 864h2.5M970 864h2.5M976 864h2.5M995 865h2.5M1000 865h2.5M1002 864h2.5M1003 865h2.5M1029 864h2.5M877 865h2.5M888 865h2.5M897 866h2.5M903 866h2.5M904 865h2.5M906 865h2.5M911 866h2.5M914 865h2.5M915 865h2.5M917 865h2.5M919 866h2.5M922 865h2.5M926 865h2.5M930 866h2.5M937 865h2.5M938 866h2.5M940 865h2.5M946 865h2.5M948 866h2.5M951 866h2.5M952 866h2.5M953 865h2.5M957 865h2.5M958 866h2.5M962 866h2.5M981 866h2.5M996 865h2.5M999 865h2.5M1000 866h2.5M1001 866h2.5M1003 866h2.5M1012 865h2.5M1020 865h2.5M849 866h2.5M852 866h2.5M869 866h2.5M878 867h2.5M896 867h2.5M898 866h2.5M899 867h2.5M902 866h2.5M902 867h2.5M903 866h2.5M904 866h2.5M905 867h2.5M909 867h2.5M911 867h2.5M913 867h2.5M914 867h2.5M918 867h2.5M919 866h2.5M919 866h2.5M920 866h2.5M922 866h2.5M922 866h2.5M931 867h2.5M938 866h2.5M938 867h2.5M940 866h2.5M941 866h2.5M944 866h2.5M948 866h2.5M951 866h2.5M951 867h2.5M955 866h2.5M956 866h2.5M957 867h2.5M966 866h2.5M971 867h2.5M974 866h2.5M976 867h2.5M978 866h2.5M987 866h2.5M999 866h2.5M1004 867h2.5M1013 866h2.5M1017 866h2.5M1018 866h2.5M855 867h2.5M857 868h2.5M861 867h2.5M870 867h2.5M877 867h2.5M882 867h2.5M894 867h2.5M897 868h2.5M898 867h2.5M899 867h2.5M901 868h2.5M903 868h2.5M904 867h2.5M909 867h2.5M910 868h2.5M912 867h2.5M913 867h2.5M914 867h2.5M917 867h2.5M918 868h2.5M920 868h2.5M930 868h2.5M934 868h2.5M938 868h2.5M946 867h2.5M952 867h2.5M958 867h2.5M962 868h2.5M966 867h2.5M975 868h2.5M977 867h2.5M979 868h2.5M985 868h2.5M990 868h2.5M992 867h2.5M1004 868h2.5M1014 868h2.5M1018 867h2.5M1024 867h2.5M847 869h2.5M849 869h2.5M850 869h2.5M853 869h2.5M872 868h2.5M888 869h2.5M896 869h2.5M897 869h2.5M899 868h2.5M900 869h2.5M902 869h2.5M904 869h2.5M904 868h2.5M906 868h2.5M907 869h2.5M908 868h2.5M910 869h2.5M911 868h2.5M911 869h2.5M914 868h2.5M921 869h2.5M926 869h2.5M937 868h2.5M937 868h2.5M941 868h2.5M942 869h2.5M944 868h2.5M946 868h2.5M948 868h2.5M950 868h2.5M951 868h2.5M952 868h2.5M960 868h2.5M961 868h2.5M973 869h2.5M975 868h2.5M977 868h2.5M978 868h2.5M980 869h2.5M983 869h2.5M994 868h2.5M995 869h2.5M855 870h2.5M860 870h2.5M867 869h2.5M867 870h2.5M881 869h2.5M897 870h2.5M900 869h2.5M902 869h2.5M903 869h2.5M904 870h2.5M907 870h2.5M908 870h2.5M911 870h2.5M912 870h2.5M915 870h2.5M916 869h2.5M916 869h2.5M921 870h2.5M921 870h2.5M926 869h2.5M927 870h2.5M932 870h2.5M935 869h2.5M939 869h2.5M941 870h2.5M942 870h2.5M945 869h2.5M946 870h2.5M947 870h2.5M948 870h2.5M951 869h2.5M957 870h2.5M959 870h2.5M959 869h2.5M968 870h2.5M968 869h2.5M976 869h2.5M998 869h2.5M1002 870h2.5M1002 869h2.5M1023 869h2.5M852 871h2.5M855 870h2.5M867 870h2.5M890 870h2.5M897 870h2.5M900 871h2.5M902 870h2.5M902 870h2.5M909 871h2.5M911 870h2.5M912 871h2.5M913 871h2.5M916 871h2.5M916 871h2.5M920 870h2.5M921 871h2.5M928 871h2.5M929 870h2.5M930 871h2.5M930 871h2.5M934 870h2.5M936 870h2.5M938 870h2.5M938 871h2.5M940 871h2.5M941 870h2.5M943 871h2.5M944 870h2.5M945 871h2.5M945 871h2.5M954 870h2.5M958 870h2.5M959 871h2.5M960 870h2.5M961 871h2.5M969 870h2.5M985 871h2.5M986 871h2.5M988 870h2.5M990 870h2.5M991 870h2.5M993 871h2.5M996 871h2.5M1006 871h2.5M1007 870h2.5M1025 870h2.5M897 872h2.5M900 871h2.5M902 872h2.5M904 872h2.5M908 872h2.5M909 872h2.5M910 872h2.5M910 871h2.5M913 871h2.5M916 872h2.5M919 871h2.5M923 872h2.5M924 871h2.5M928 872h2.5M930 872h2.5M932 872h2.5M934 872h2.5M940 871h2.5M941 871h2.5M944 872h2.5M946 871h2.5M949 871h2.5M951 872h2.5M954 872h2.5M957 871h2.5M958 872h2.5M961 872h2.5M963 871h2.5M966 872h2.5M972 871h2.5M973 871h2.5M974 871h2.5M987 872h2.5M989 871h2.5M992 871h2.5M997 871h2.5M1013 872h2.5M1018 871h2.5M1022 871h2.5M1026 872h2.5M1027 872h2.5M852 872h2.5M853 873h2.5M869 872h2.5M873 872h2.5M877 873h2.5M882 873h2.5M884 872h2.5M900 872h2.5M903 872h2.5M910 872h2.5M912 872h2.5M913 873h2.5M914 873h2.5M915 873h2.5M916 873h2.5M917 873h2.5M917 872h2.5M919 872h2.5M925 873h2.5M928 872h2.5M929 873h2.5M933 872h2.5M938 872h2.5M941 872h2.5M945 873h2.5M945 872h2.5M948 873h2.5M949 873h2.5M950 872h2.5M952 873h2.5M954 873h2.5M956 873h2.5M959 872h2.5M962 873h2.5M964 873h2.5M966 872h2.5M969 872h2.5M971 873h2.5M976 873h2.5M993 873h2.5M995 872h2.5M998 872h2.5M1000 873h2.5M1012 873h2.5M1021 872h2.5M850 874h2.5M877 874h2.5M892 873h2.5M898 874h2.5M900 873h2.5M905 873h2.5M907 873h2.5M913 874h2.5M915 874h2.5M916 874h2.5M917 874h2.5M919 874h2.5M919 874h2.5M921 873h2.5M921 874h2.5M924 874h2.5M927 874h2.5M927 874h2.5M931 874h2.5M937 874h2.5M940 874h2.5M943 874h2.5M945 873h2.5M947 873h2.5M949 873h2.5M957 873h2.5M962 873h2.5M963 873h2.5M969 874h2.5M988 873h2.5M994 874h2.5M996 874h2.5M998 874h2.5M1005 874h2.5M1007 873h2.5M1023 873h2.5M857 874h2.5M874 874h2.5M875 875h2.5M885 874h2.5M891 874h2.5M898 874h2.5M904 874h2.5M908 874h2.5M911 875h2.5M914 875h2.5M914 875h2.5M916 874h2.5M919 874h2.5M920 875h2.5M921 875h2.5M927 874h2.5M930 874h2.5M931 874h2.5M933 875h2.5M936 874h2.5M938 875h2.5M938 875h2.5M940 875h2.5M947 874h2.5M957 874h2.5M958 874h2.5M971 875h2.5M981 874h2.5M986 875h2.5M991 875h2.5M999 874h2.5M1018 875h2.5M1023 874h2.5M868 875h2.5M869 875h2.5M881 876h2.5M890 875h2.5M898 876h2.5M900 876h2.5M905 876h2.5M906 876h2.5M906 875h2.5M908 875h2.5M911 876h2.5M912 876h2.5M915 876h2.5M916 875h2.5M919 875h2.5M920 875h2.5M923 876h2.5M927 876h2.5M929 875h2.5M930 876h2.5M935 875h2.5M936 875h2.5M937 876h2.5M939 876h2.5M941 876h2.5M942 876h2.5M944 875h2.5M946 876h2.5M950 876h2.5M954 875h2.5M957 875h2.5M962 876h2.5M969 876h2.5M983 875h2.5M985 876h2.5M992 876h2.5M993 875h2.5M995 875h2.5M997 875h2.5M1005 875h2.5M1010 876h2.5M1015 875h2.5M1033 876h2.5M1037 875h2.5M848 877h2.5M866 877h2.5M891 876h2.5M896 876h2.5M898 876h2.5M905 876h2.5M906 876h2.5M909 876h2.5M911 877h2.5M915 877h2.5M918 876h2.5M920 876h2.5M920 877h2.5M924 877h2.5M927 877h2.5M935 876h2.5M938 876h2.5M940 876h2.5M941 877h2.5M944 876h2.5M947 876h2.5M947 876h2.5M949 877h2.5M951 876h2.5M953 876h2.5M961 876h2.5M971 876h2.5M975 876h2.5M976 876h2.5M983 876h2.5M985 876h2.5M996 877h2.5M1001 877h2.5M1015 877h2.5M859 877h2.5M875 877h2.5M883 877h2.5M889 877h2.5M897 877h2.5M898 877h2.5M903 877h2.5M905 877h2.5M905 877h2.5M907 877h2.5M917 878h2.5M919 877h2.5M925 877h2.5M927 877h2.5M929 878h2.5M934 877h2.5M935 878h2.5M940 878h2.5M944 877h2.5M946 877h2.5M949 877h2.5M952 878h2.5M954 877h2.5M955 877h2.5M957 878h2.5M965 878h2.5M970 877h2.5M974 878h2.5M974 878h2.5M978 877h2.5M979 877h2.5M980 878h2.5M999 878h2.5M1005 877h2.5M1025 877h2.5M1030 878h2.5M849 879h2.5M877 878h2.5M882 879h2.5M891 879h2.5M895 878h2.5M897 879h2.5M900 878h2.5M903 878h2.5M903 879h2.5M906 878h2.5M908 879h2.5M909 879h2.5M910 879h2.5M912 878h2.5M915 879h2.5M915 878h2.5M919 879h2.5M924 879h2.5M929 878h2.5M936 878h2.5M937 879h2.5M939 878h2.5M940 878h2.5M942 878h2.5M946 879h2.5M951 879h2.5M953 878h2.5M954 878h2.5M957 879h2.5M959 878h2.5M976 879h2.5M981 878h2.5M993 879h2.5M1008 879h2.5M1012 879h2.5M1014 878h2.5M1025 879h2.5M861 880h2.5M871 879h2.5M876 880h2.5M879 879h2.5M882 879h2.5M899 879h2.5M903 880h2.5M904 879h2.5M906 880h2.5M907 879h2.5M908 879h2.5M909 879h2.5M912 879h2.5M913 879h2.5M915 879h2.5M915 879h2.5M918 880h2.5M919 879h2.5M920 880h2.5M924 879h2.5M925 879h2.5M929 879h2.5M938 880h2.5M940 880h2.5M942 879h2.5M944 880h2.5M945 880h2.5M951 879h2.5M953 880h2.5M955 880h2.5M955 879h2.5M957 880h2.5M959 880h2.5M962 880h2.5M969 879h2.5M971 879h2.5M973 880h2.5M986 879h2.5M990 879h2.5M992 880h2.5M999 880h2.5M1004 879h2.5M1006 880h2.5M1010 879h2.5M1017 879h2.5M1019 880h2.5M1022 879h2.5M855 881h2.5M864 881h2.5M869 881h2.5M870 880h2.5M881 881h2.5M886 881h2.5M897 880h2.5M898 880h2.5M900 881h2.5M901 881h2.5M905 881h2.5M905 880h2.5M909 880h2.5M912 881h2.5M914 881h2.5M915 881h2.5M918 881h2.5M919 880h2.5M919 881h2.5M921 880h2.5M923 881h2.5M924 880h2.5M928 881h2.5M932 881h2.5M933 880h2.5M935 880h2.5M940 881h2.5M941 880h2.5M944 881h2.5M945 881h2.5M948 880h2.5M951 881h2.5M956 880h2.5M958 881h2.5M958 880h2.5M962 881h2.5M971 881h2.5M978 881h2.5M981 881h2.5M991 880h2.5M991 881h2.5M994 881h2.5M1001 881h2.5M1004 881h2.5M856 882h2.5M864 882h2.5M874 881h2.5M878 882h2.5M891 882h2.5M899 881h2.5M900 881h2.5M902 882h2.5M905 881h2.5M906 882h2.5M908 881h2.5M914 881h2.5M925 882h2.5M926 881h2.5M927 881h2.5M928 882h2.5M933 882h2.5M937 881h2.5M938 882h2.5M938 882h2.5M941 881h2.5M944 881h2.5M945 882h2.5M947 881h2.5M948 881h2.5M951 882h2.5M957 881h2.5M957 882h2.5M958 882h2.5M960 881h2.5M963 881h2.5M967 882h2.5M974 881h2.5M976 882h2.5M988 881h2.5M990 881h2.5M996 882h2.5M999 881h2.5M1006 882h2.5M1014 882h2.5M1019 882h2.5M1021 882h2.5M1033 882h2.5M855 882h2.5M858 883h2.5M879 883h2.5M897 883h2.5M897 882h2.5M901 882h2.5M902 882h2.5M904 882h2.5M905 883h2.5M908 883h2.5M909 883h2.5M913 882h2.5M918 882h2.5M919 883h2.5M924 882h2.5M926 882h2.5M929 883h2.5M932 882h2.5M933 883h2.5M939 883h2.5M939 882h2.5M943 882h2.5M943 882h2.5M948 883h2.5M950 883h2.5M951 883h2.5M955 882h2.5M960 883h2.5M965 882h2.5M982 883h2.5M983 883h2.5M991 882h2.5M992 883h2.5M993 882h2.5M995 883h2.5M998 883h2.5M1009 883h2.5M1012 883h2.5M1026 883h2.5M856 884h2.5M876 884h2.5M895 883h2.5M897 883h2.5M898 884h2.5M901 884h2.5M903 883h2.5M903 884h2.5M905 883h2.5M906 884h2.5M907 883h2.5M910 884h2.5M911 883h2.5M911 883h2.5M912 883h2.5M914 883h2.5M916 884h2.5M917 884h2.5M917 883h2.5M918 883h2.5M920 884h2.5M920 883h2.5M930 884h2.5M931 883h2.5M936 884h2.5M938 883h2.5M941 883h2.5M941 884h2.5M942 883h2.5M948 884h2.5M951 883h2.5M952 883h2.5M953 883h2.5M960 884h2.5M962 884h2.5M972 883h2.5M973 883h2.5M984 883h2.5M986 884h2.5M999 883h2.5M999 883h2.5M1004 884h2.5M1007 884h2.5M1011 884h2.5M854 885h2.5M861 885h2.5M873 884h2.5M885 884h2.5M892 884h2.5M895 885h2.5M899 885h2.5M899 885h2.5M903 884h2.5M904 884h2.5M906 884h2.5M906 884h2.5M910 884h2.5M911 885h2.5M911 885h2.5M921 885h2.5M928 884h2.5M929 885h2.5M929 884h2.5M930 885h2.5M936 885h2.5M940 885h2.5M941 885h2.5M946 885h2.5M947 885h2.5M949 885h2.5M952 885h2.5M953 885h2.5M955 884h2.5M958 884h2.5M964 885h2.5M966 884h2.5M968 885h2.5M970 885h2.5M975 885h2.5M978 885h2.5M983 884h2.5M987 884h2.5M994 884h2.5M998 884h2.5M1004 884h2.5M1004 885h2.5M1009 885h2.5M896 885h2.5M897 885h2.5M898 886h2.5M899 885h2.5M902 886h2.5M904 885h2.5M906 885h2.5M907 886h2.5M913 885h2.5M914 886h2.5M915 886h2.5M918 885h2.5M927 886h2.5M928 885h2.5M935 886h2.5M941 886h2.5M945 886h2.5M948 886h2.5M949 885h2.5M956 886h2.5M972 886h2.5M975 885h2.5M978 886h2.5M987 885h2.5M988 885h2.5M991 886h2.5M998 885h2.5M1002 886h2.5M1002 885h2.5M1010 885h2.5M1022 885h2.5M1024 886h2.5M1025 885h2.5M870 886h2.5M884 886h2.5M891 887h2.5M895 887h2.5M897 886h2.5M898 887h2.5M900 886h2.5M902 887h2.5M904 886h2.5M906 887h2.5M909 886h2.5M912 886h2.5M916 886h2.5M919 886h2.5M920 886h2.5M937 886h2.5M938 886h2.5M939 887h2.5M944 886h2.5M946 887h2.5M946 886h2.5M948 887h2.5M951 886h2.5M955 887h2.5M956 887h2.5M958 887h2.5M958 887h2.5M962 887h2.5M968 887h2.5M970 887h2.5M975 887h2.5M988 886h2.5M993 886h2.5M996 887h2.5M1000 887h2.5M1008 887h2.5M846 888h2.5M859 887h2.5M871 888h2.5M879 887h2.5M891 887h2.5M894 888h2.5M904 888h2.5M906 887h2.5M907 887h2.5M910 888h2.5M911 887h2.5M911 888h2.5M913 887h2.5M913 888h2.5M915 888h2.5M915 888h2.5M917 888h2.5M919 888h2.5M923 887h2.5M924 888h2.5M925 887h2.5M931 888h2.5M939 888h2.5M940 888h2.5M941 888h2.5M944 888h2.5M946 887h2.5M950 887h2.5M951 887h2.5M952 888h2.5M953 888h2.5M955 888h2.5M959 888h2.5M962 887h2.5M975 888h2.5M996 887h2.5M1000 887h2.5M1004 888h2.5M1008 888h2.5M1018 888h2.5M857 889h2.5M869 888h2.5M872 888h2.5M877 888h2.5M877 889h2.5M880 889h2.5M890 888h2.5M893 889h2.5M895 889h2.5M896 889h2.5M896 889h2.5M902 889h2.5M903 888h2.5M906 888h2.5M908 888h2.5M910 889h2.5M912 889h2.5M916 889h2.5M918 888h2.5M918 889h2.5M927 888h2.5M935 888h2.5M936 889h2.5M942 888h2.5M947 888h2.5M949 889h2.5M951 888h2.5M954 889h2.5M954 888h2.5M959 889h2.5M961 889h2.5M967 888h2.5M967 889h2.5M976 889h2.5M976 888h2.5M984 889h2.5M985 888h2.5M986 888h2.5M995 889h2.5M998 888h2.5M1000 888h2.5M1004 888h2.5M1004 889h2.5M1006 888h2.5M1012 889h2.5M1016 889h2.5M864 890h2.5M872 889h2.5M887 889h2.5M887 890h2.5M888 890h2.5M893 889h2.5M898 890h2.5M898 890h2.5M900 890h2.5M909 889h2.5M910 890h2.5M911 889h2.5M912 889h2.5M914 890h2.5M915 889h2.5M917 889h2.5M919 889h2.5M920 889h2.5M925 889h2.5M927 890h2.5M931 890h2.5M931 889h2.5M934 889h2.5M936 889h2.5M939 890h2.5M943 889h2.5M944 889h2.5M950 889h2.5M955 889h2.5M957 889h2.5M960 889h2.5M970 889h2.5M973 890h2.5M978 889h2.5M983 889h2.5M990 890h2.5M998 889h2.5M1003 890h2.5M1006 889h2.5M1014 890h2.5M1017 889h2.5M1020 890h2.5M849 890h2.5M860 891h2.5M866 890h2.5M871 891h2.5M873 890h2.5M877 890h2.5M882 891h2.5M885 891h2.5M896 890h2.5M898 890h2.5M903 890h2.5M905 891h2.5M906 891h2.5M908 890h2.5M909 891h2.5M911 890h2.5M913 891h2.5M915 890h2.5M917 890h2.5M917 890h2.5M918 891h2.5M920 890h2.5M922 891h2.5M924 890h2.5M927 890h2.5M934 890h2.5M940 890h2.5M942 890h2.5M946 891h2.5M948 891h2.5M948 890h2.5M952 890h2.5M954 891h2.5M961 891h2.5M981 890h2.5M991 891h2.5M998 891h2.5M1001 891h2.5M1008 890h2.5M1010 891h2.5M1012 890h2.5M1016 891h2.5M845 892h2.5M862 892h2.5M865 891h2.5M880 891h2.5M883 892h2.5M891 892h2.5M896 891h2.5M898 891h2.5M901 891h2.5M904 892h2.5M906 891h2.5M909 891h2.5M911 892h2.5M912 891h2.5M913 892h2.5M916 891h2.5M918 892h2.5M922 892h2.5M926 892h2.5M929 892h2.5M934 892h2.5M935 892h2.5M939 891h2.5M942 892h2.5M945 891h2.5M947 892h2.5M950 891h2.5M951 891h2.5M951 891h2.5M954 891h2.5M956 891h2.5M959 892h2.5M964 892h2.5M967 891h2.5M969 892h2.5M970 892h2.5M974 892h2.5M978 892h2.5M983 892h2.5M990 891h2.5M1003 891h2.5M1004 891h2.5M1007 892h2.5M1010 892h2.5M1010 892h2.5M859 892h2.5M870 893h2.5M874 892h2.5M878 893h2.5M895 893h2.5M899 893h2.5M904 893h2.5M905 893h2.5M905 893h2.5M908 892h2.5M912 892h2.5M912 893h2.5M914 893h2.5M914 892h2.5M915 893h2.5M916 892h2.5M924 893h2.5M931 893h2.5M932 892h2.5M935 893h2.5M937 892h2.5M941 893h2.5M942 892h2.5M944 892h2.5M946 893h2.5M949 893h2.5M951 893h2.5M954 893h2.5M960 892h2.5M962 892h2.5M968 892h2.5M968 893h2.5M975 892h2.5M994 893h2.5M996 893h2.5M998 892h2.5M1002 892h2.5M1005 893h2.5M1014 892h2.5M1021 893h2.5M865 894h2.5M883 893h2.5M889 894h2.5M891 894h2.5M899 893h2.5M900 894h2.5M901 894h2.5M903 894h2.5M903 893h2.5M905 894h2.5M907 893h2.5M908 894h2.5M910 893h2.5M912 894h2.5M915 893h2.5M917 893h2.5M919 893h2.5M921 893h2.5M924 894h2.5M924 894h2.5M934 893h2.5M934 893h2.5M938 894h2.5M944 893h2.5M945 894h2.5M950 894h2.5M956 893h2.5M957 894h2.5M959 894h2.5M960 894h2.5M962 894h2.5M964 894h2.5M966 893h2.5M973 894h2.5M974 894h2.5M984 893h2.5M988 893h2.5M989 893h2.5M995 893h2.5M996 894h2.5M1002 894h2.5M1008 893h2.5M1011 893h2.5M1011 894h2.5M1015 894h2.5M1020 894h2.5M853 895h2.5M861 895h2.5M876 895h2.5M890 895h2.5M892 895h2.5M896 895h2.5M901 895h2.5M905 895h2.5M906 894h2.5M908 895h2.5M909 895h2.5M909 895h2.5M912 895h2.5M914 895h2.5M915 895h2.5M916 895h2.5M918 894h2.5M933 895h2.5M934 894h2.5M935 894h2.5M937 895h2.5M939 895h2.5M941 895h2.5M943 894h2.5M946 894h2.5M951 895h2.5M954 895h2.5M961 895h2.5M961 894h2.5M975 894h2.5M979 895h2.5M980 895h2.5M985 894h2.5M994 895h2.5M1008 895h2.5M1010 895h2.5M1027 895h2.5M864 896h2.5M872 896h2.5M886 895h2.5M901 895h2.5M901 895h2.5M906 896h2.5M906 896h2.5M908 895h2.5M908 895h2.5M910 895h2.5M914 896h2.5M919 896h2.5M921 895h2.5M922 895h2.5M930 896h2.5M932 896h2.5M933 896h2.5M934 895h2.5M938 895h2.5M940 896h2.5M941 896h2.5M945 896h2.5M947 895h2.5M947 895h2.5M949 895h2.5M949 896h2.5M952 895h2.5M953 895h2.5M953 896h2.5M955 896h2.5M955 895h2.5M958 896h2.5M959 896h2.5M964 896h2.5M969 896h2.5M972 896h2.5M975 895h2.5M976 896h2.5M987 895h2.5M993 896h2.5M1006 896h2.5M1006 896h2.5M1012 896h2.5M861 897h2.5M864 896h2.5M870 896h2.5M884 897h2.5M898 896h2.5M899 897h2.5M900 896h2.5M902 897h2.5M904 897h2.5M910 897h2.5M911 897h2.5M913 897h2.5M916 896h2.5M917 897h2.5M917 896h2.5M918 896h2.5M922 897h2.5M927 896h2.5M929 897h2.5M933 896h2.5M936 896h2.5M940 896h2.5M941 896h2.5M942 897h2.5M948 897h2.5M950 896h2.5M954 897h2.5M957 896h2.5M960 897h2.5M960 896h2.5M964 896h2.5M968 896h2.5M990 897h2.5M995 897h2.5M1007 896h2.5M1011 897h2.5M1014 896h2.5M1018 896h2.5M853 898h2.5M855 898h2.5M877 897h2.5M878 898h2.5M896 898h2.5M901 897h2.5M903 898h2.5M904 897h2.5M905 898h2.5M906 897h2.5M908 897h2.5M910 898h2.5M911 898h2.5M912 897h2.5M918 898h2.5M921 897h2.5M925 898h2.5M926 898h2.5M931 898h2.5M936 898h2.5M940 898h2.5M941 897h2.5M946 897h2.5M948 898h2.5M954 897h2.5M957 898h2.5M961 898h2.5M963 897h2.5M975 898h2.5M977 898h2.5M984 898h2.5M985 898h2.5M987 898h2.5M993 898h2.5M1005 897h2.5M1025 898h2.5M854 898h2.5M866 898h2.5M871 899h2.5M892 898h2.5M894 898h2.5M899 899h2.5M902 899h2.5M906 898h2.5M907 898h2.5M907 899h2.5M912 898h2.5M912 899h2.5M914 899h2.5M919 899h2.5M926 898h2.5M931 899h2.5M932 899h2.5M935 899h2.5M937 898h2.5M938 899h2.5M939 898h2.5M941 899h2.5M943 899h2.5M944 899h2.5M945 899h2.5M948 898h2.5M950 898h2.5M950 898h2.5M951 898h2.5M955 899h2.5M960 899h2.5M969 898h2.5M981 899h2.5M999 899h2.5M1002 899h2.5M1008 899h2.5M1009 899h2.5M1013 899h2.5M1025 898h2.5M863 899h2.5M884 899h2.5M899 899h2.5M901 899h2.5M902 900h2.5M905 899h2.5M909 900h2.5M909 900h2.5M912 899h2.5M914 899h2.5M916 900h2.5M917 899h2.5M924 899h2.5M939 899h2.5M944 899h2.5M950 899h2.5M953 900h2.5M959 899h2.5M967 899h2.5M970 900h2.5M971 900h2.5M973 900h2.5M978 900h2.5M994 900h2.5M996 899h2.5M1004 900h2.5M1009 900h2.5M854 900h2.5M860 901h2.5M861 900h2.5M890 900h2.5M896 900h2.5M900 900h2.5M900 901h2.5M901 900h2.5M904 900h2.5M906 901h2.5M907 901h2.5M909 900h2.5M910 901h2.5M912 900h2.5M913 901h2.5M914 901h2.5M916 901h2.5M919 901h2.5M921 900h2.5M922 901h2.5M923 901h2.5M933 901h2.5M934 901h2.5M936 901h2.5M940 901h2.5M941 901h2.5M942 900h2.5M948 901h2.5M952 900h2.5M954 901h2.5M954 900h2.5M958 900h2.5M971 900h2.5M971 900h2.5M977 901h2.5M982 900h2.5M987 901h2.5M999 901h2.5M1004 901h2.5M1008 900h2.5M1014 901h2.5M847 901h2.5M866 902h2.5M869 901h2.5M876 902h2.5M887 901h2.5M891 902h2.5M898 901h2.5M900 902h2.5M901 901h2.5M902 902h2.5M904 902h2.5M907 902h2.5M912 902h2.5M913 901h2.5M917 902h2.5M920 901h2.5M921 901h2.5M923 902h2.5M925 901h2.5M927 902h2.5M929 902h2.5M930 901h2.5M933 901h2.5M935 902h2.5M939 901h2.5M940 902h2.5M946 901h2.5M948 902h2.5M951 902h2.5M954 902h2.5M956 901h2.5M960 902h2.5M961 901h2.5M965 902h2.5M974 902h2.5M977 902h2.5M980 901h2.5M980 902h2.5M996 901h2.5M863 902h2.5M872 903h2.5M880 902h2.5M898 902h2.5M899 902h2.5M900 903h2.5M904 902h2.5M904 902h2.5M909 902h2.5M912 902h2.5M914 902h2.5M923 903h2.5M926 903h2.5M928 902h2.5M932 903h2.5M935 903h2.5M942 902h2.5M952 903h2.5M968 903h2.5M973 903h2.5M974 903h2.5M977 903h2.5M981 902h2.5M1016 903h2.5M845 903h2.5M864 903h2.5M874 904h2.5M893 903h2.5M897 903h2.5M900 903h2.5M908 903h2.5M909 904h2.5M912 903h2.5M913 904h2.5M916 903h2.5M917 904h2.5M919 904h2.5M920 904h2.5M932 903h2.5M934 904h2.5M938 904h2.5M943 903h2.5M955 903h2.5M968 903h2.5M968 903h2.5M984 903h2.5M986 904h2.5M997 903h2.5M1003 903h2.5M1007 904h2.5M1010 903h2.5M1020 904h2.5M857 905h2.5M868 905h2.5M882 905h2.5M887 904h2.5M896 904h2.5M902 904h2.5M903 905h2.5M905 905h2.5M908 905h2.5M909 905h2.5M910 904h2.5M915 905h2.5M922 904h2.5M927 905h2.5M930 905h2.5M932 904h2.5M948 904h2.5M950 904h2.5M956 904h2.5M962 905h2.5M962 905h2.5M964 904h2.5M972 904h2.5M975 905h2.5M980 905h2.5M984 905h2.5M991 905h2.5M1002 904h2.5M1006 905h2.5M1029 905h2.5M861 905h2.5M867 906h2.5M890 906h2.5M903 905h2.5M907 905h2.5M912 905h2.5M926 906h2.5M927 905h2.5M933 906h2.5M946 906h2.5M959 905h2.5M963 905h2.5M969 906h2.5M972 906h2.5M983 906h2.5M993 906h2.5M1008 905h2.5M1009 905h2.5M1024 905h2.5M873 906h2.5M879 907h2.5M888 906h2.5M898 906h2.5M905 906h2.5M908 906h2.5M918 906h2.5M919 907h2.5M963 906h2.5M972 907h2.5M972 907h2.5M978 907h2.5M990 907h2.5M996 907h2.5M1007 907h2.5M1019 906h2.5M865 907h2.5M892 907h2.5M895 908h2.5M903 907h2.5M914 907h2.5M958 908h2.5M995 907h2.5M1004 907h2.5M850 909h2.5M873 908h2.5M893 909h2.5M970 909h2.5M1021 908h2.5M892 910h2.5M906 910h2.5M918 910h2.5M1004 909h2.5M1026 909h2.5M888 911h2.5M914 912h2.5M1007 912h2.5" stroke="#000" stroke-width="2.5" fill="none"/>
<path d="M708.9 591.5 H1175 V1029.3 H708.9 Z" fill="none" stroke="#111" stroke-width="2"/>
<line x1="694.9" y1="626" x2="708.9" y2="626" stroke="#000" stroke-width="1.6"/>
<line x1="700.9" y1="661.1" x2="708.9" y2="661.1" stroke="#000" stroke-width="1.6"/>
<line x1="700.9" y1="696.2" x2="708.9" y2="696.2" stroke="#000" stroke-width="1.6"/>
<line x1="700.9" y1="731.3" x2="708.9" y2="731.3" stroke="#000" stroke-width="1.6"/>
<line x1="700.9" y1="766.4" x2="708.9" y2="766.4" stroke="#000" stroke-width="1.6"/>
<line x1="694.9" y1="801.5" x2="708.9" y2="801.5" stroke="#000" stroke-width="1.6"/>
<line x1="700.9" y1="836.7" x2="708.9" y2="836.7" stroke="#000" stroke-width="1.6"/>
<line x1="700.9" y1="871.8" x2="708.9" y2="871.8" stroke="#000" stroke-width="1.6"/>
<line x1="700.9" y1="906.9" x2="708.9" y2="906.9" stroke="#000" stroke-width="1.6"/>
<line x1="700.9" y1="942" x2="708.9" y2="942" stroke="#000" stroke-width="1.6"/>
<line x1="694.9" y1="977.1" x2="708.9" y2="977.1" stroke="#000" stroke-width="1.6"/>
<line x1="700.9" y1="1012.2" x2="708.9" y2="1012.2" stroke="#000" stroke-width="1.6"/>
<line x1="736.4" y1="1029.3" x2="736.4" y2="1045.3" stroke="#000" stroke-width="1.6"/>
<line x1="766.9" y1="1029.3" x2="766.9" y2="1038.3" stroke="#000" stroke-width="1.6"/>
<line x1="797.4" y1="1029.3" x2="797.4" y2="1038.3" stroke="#000" stroke-width="1.6"/>
<line x1="827.9" y1="1029.3" x2="827.9" y2="1038.3" stroke="#000" stroke-width="1.6"/>
<line x1="858.4" y1="1029.3" x2="858.4" y2="1038.3" stroke="#000" stroke-width="1.6"/>
<line x1="888.9" y1="1029.3" x2="888.9" y2="1045.3" stroke="#000" stroke-width="1.6"/>
<line x1="919.4" y1="1029.3" x2="919.4" y2="1038.3" stroke="#000" stroke-width="1.6"/>
<line x1="949.9" y1="1029.3" x2="949.9" y2="1038.3" stroke="#000" stroke-width="1.6"/>
<line x1="980.4" y1="1029.3" x2="980.4" y2="1038.3" stroke="#000" stroke-width="1.6"/>
<line x1="1010.9" y1="1029.3" x2="1010.9" y2="1038.3" stroke="#000" stroke-width="1.6"/>
<line x1="1041.4" y1="1029.3" x2="1041.4" y2="1045.3" stroke="#000" stroke-width="1.6"/>
<line x1="1071.9" y1="1029.3" x2="1071.9" y2="1038.3" stroke="#000" stroke-width="1.6"/>
<line x1="1102.4" y1="1029.3" x2="1102.4" y2="1038.3" stroke="#000" stroke-width="1.6"/>
<line x1="1132.9" y1="1029.3" x2="1132.9" y2="1038.3" stroke="#000" stroke-width="1.6"/>
<line x1="1163.4" y1="1029.3" x2="1163.4" y2="1038.3" stroke="#000" stroke-width="1.6"/>
<text x="693.3" y="636" font-family="'Liberation Sans', Arial, sans-serif" font-size="25" font-weight="normal" fill="#000" text-anchor="end" >150</text>
<text x="693.3" y="807.1" font-family="'Liberation Sans', Arial, sans-serif" font-size="25" font-weight="normal" fill="#000" text-anchor="end" >100</text>
<text x="693.3" y="985.7" font-family="'Liberation Sans', Arial, sans-serif" font-size="25" font-weight="normal" fill="#000" text-anchor="end" >50</text>
<text x="732" y="1067.3" font-family="'Liberation Sans', Arial, sans-serif" font-size="25" font-weight="normal" fill="#000" text-anchor="middle" >50</text>
<text x="885.8" y="1067.3" font-family="'Liberation Sans', Arial, sans-serif" font-size="25" font-weight="normal" fill="#000" text-anchor="middle" >100</text>
<text x="1043.7" y="1067.3" font-family="'Liberation Sans', Arial, sans-serif" font-size="25" font-weight="normal" fill="#000" text-anchor="middle" >150</text>
<text x="879.3" y="1102.3" font-family="'Liberation Sans', Arial, sans-serif" font-size="25" font-weight="normal" fill="#000" text-anchor="start" textLength="79" lengthAdjust="spacingAndGlyphs">DAPI-A</text>
<text x="1092.5" y="1097.5" font-family="'Liberation Sans', Arial, sans-serif" font-size="24" font-weight="normal" fill="#000" text-anchor="start" textLength="97.5" lengthAdjust="spacingAndGlyphs">(x 1,000)</text>
<text transform="translate(637.2 847.5) rotate(-90)" font-family="'Liberation Sans', Arial, sans-serif" font-size="25" textLength="87" lengthAdjust="spacingAndGlyphs">DAPI-W</text>
<text transform="translate(636 686.5) rotate(-90)" font-family="'Liberation Sans', Arial, sans-serif" font-size="23.5" textLength="98" lengthAdjust="spacingAndGlyphs">(x 1,000)</text>
<text x="673.5" y="1070.4" font-family="'Liberation Sans', Arial, sans-serif" font-size="37" font-weight="bold" fill="#000" text-anchor="start" >d</text>
<rect x="727.9" y="803.7" width="113.6" height="148.6" fill="#000"/>
<g filter="url(#bl)"><line x1="748" y1="851" x2="748" y2="870" stroke="#0606c4" stroke-width="28" stroke-linecap="round" opacity="1"/><line x1="750" y1="897" x2="750" y2="913" stroke="#0606c4" stroke-width="25" stroke-linecap="round" opacity="1"/><line x1="785" y1="864" x2="785" y2="870" stroke="#0606c4" stroke-width="24" stroke-linecap="round" opacity="1"/><line x1="785" y1="893" x2="785" y2="895" stroke="#0606c4" stroke-width="24" stroke-linecap="round" opacity="1"/><line x1="819.5" y1="873" x2="819.5" y2="876" stroke="#0606c4" stroke-width="28" stroke-linecap="round" opacity="1"/><line x1="819.5" y1="893" x2="819.5" y2="902" stroke="#0606c4" stroke-width="30" stroke-linecap="round" opacity="1"/></g>
<g filter="url(#bs)"><ellipse cx="741" cy="852" rx="7" ry="10" fill="#1a8a3a" opacity="0.6"/><circle cx="742" cy="846" r="5.5" fill="#ff3060"/><circle cx="742" cy="843" r="3.2" fill="#ff0a86"/><circle cx="744" cy="848" r="3.2" fill="#ff0a86"/><circle cx="740" cy="846" r="3.2" fill="#ff0a86"/><circle cx="779" cy="858" r="3.2" fill="#ff0a86"/><circle cx="785" cy="856.5" r="3.2" fill="#ff0a86"/><circle cx="740.6" cy="856.3" r="2.5" fill="#12f0b0"/><circle cx="749.7" cy="923.3" r="2.5" fill="#12f0b0"/><circle cx="756.6" cy="918.8" r="2.5" fill="#12f0b0"/><circle cx="782.5" cy="865.4" r="2.5" fill="#12f0b0"/><circle cx="790.1" cy="860.1" r="2.5" fill="#12f0b0"/><circle cx="778.7" cy="904.3" r="2.5" fill="#12f0b0"/><circle cx="789.3" cy="900.5" r="2.5" fill="#12f0b0"/><circle cx="806.1" cy="895.2" r="2.5" fill="#12f0b0"/><circle cx="815.2" cy="890.6" r="2.5" fill="#12f0b0"/></g>
<text x="737.5" y="829.3" font-family="'Liberation Serif', 'Times New Roman', serif" font-size="22" font-weight="bold" fill="#fff" textLength="23.5" lengthAdjust="spacingAndGlyphs">1P</text>
<text x="777" y="829.3" font-family="'Liberation Serif', 'Times New Roman', serif" font-size="22" font-weight="bold" fill="#fff" textLength="23.5" lengthAdjust="spacingAndGlyphs">3P</text>
<text x="815.5" y="829.3" font-family="'Liberation Serif', 'Times New Roman', serif" font-size="22" font-weight="bold" fill="#fff" textLength="23.5" lengthAdjust="spacingAndGlyphs">4P</text>
<rect x="899.5" y="601.4" width="99.5" height="147.9" fill="#000"/>
<g filter="url(#bl)"><line x1="913" y1="657" x2="929" y2="675" stroke="#0606c4" stroke-width="23" stroke-linecap="round" opacity="1"/><line x1="930" y1="690" x2="929.5" y2="710" stroke="#0606c4" stroke-width="24.5" stroke-linecap="round" opacity="1"/><line x1="981" y1="647" x2="966" y2="676" stroke="#0606c4" stroke-width="21" stroke-linecap="round" opacity="1"/><line x1="966" y1="693" x2="975" y2="722" stroke="#0606c4" stroke-width="20" stroke-linecap="round" opacity="1"/></g>
<g filter="url(#bs)"><circle cx="908.5" cy="661" r="3.6" fill="#ff0a86"/><circle cx="912" cy="657.5" r="3.6" fill="#ff0a86"/><circle cx="916" cy="654.5" r="3.6" fill="#ff0a86"/><circle cx="920" cy="652" r="3.6" fill="#ff0a86"/><circle cx="924" cy="650.5" r="3.4" fill="#ff0a86"/><circle cx="964.7" cy="654" r="2.5" fill="#12f0b0"/><circle cx="973.1" cy="648" r="2.5" fill="#12f0b0"/><circle cx="979.2" cy="648.7" r="2.5" fill="#12f0b0"/><circle cx="974.6" cy="655.6" r="2.5" fill="#12f0b0"/><circle cx="973.1" cy="716.6" r="2.5" fill="#12f0b0"/><circle cx="970" cy="720" r="2.5" fill="#12f0b0"/></g>
<text x="908.6" y="632.7" font-family="'Liberation Serif', 'Times New Roman', serif" font-size="22" font-weight="bold" fill="#fff" textLength="23.5" lengthAdjust="spacingAndGlyphs">5P</text>
<text x="965" y="632.7" font-family="'Liberation Serif', 'Times New Roman', serif" font-size="22" font-weight="bold" fill="#fff" textLength="23.5" lengthAdjust="spacingAndGlyphs">6P</text>
<rect x="1061.3" y="760.2" width="106.3" height="177.5" fill="#000"/>
<g filter="url(#bl)"><line x1="1075" y1="796" x2="1078" y2="838" stroke="#0606c4" stroke-width="13" stroke-linecap="round" opacity="1"/><line x1="1087" y1="796" x2="1090" y2="838" stroke="#0606c4" stroke-width="13" stroke-linecap="round" opacity="1"/><line x1="1084" y1="855" x2="1082" y2="915" stroke="#0606c4" stroke-width="22" stroke-linecap="round" opacity="1"/><line x1="1147" y1="798" x2="1124" y2="836" stroke="#0606c4" stroke-width="26" stroke-linecap="round" opacity="1"/><line x1="1122" y1="848" x2="1152" y2="890" stroke="#0606c4" stroke-width="24" stroke-linecap="round" opacity="1"/></g>
<g filter="url(#bs)"><circle cx="1073" cy="796" r="4.2" fill="#ff0a86"/><circle cx="1086.5" cy="797" r="4.2" fill="#ff0a86"/><circle cx="1150" cy="796.4" r="4" fill="#ff0a86"/><circle cx="1153.2" cy="803" r="4" fill="#ff0a86"/><circle cx="1155.2" cy="887.1" r="3.8" fill="#ff0a86"/><circle cx="1159.4" cy="897.5" r="4" fill="#ff0a86"/><circle cx="1147" cy="811.8" r="2.5" fill="#12f0b0"/><circle cx="1143.9" cy="790.2" r="2.5" fill="#12f0b0"/><circle cx="1146" cy="883" r="2.5" fill="#12f0b0"/><circle cx="1145" cy="894.4" r="2.5" fill="#12f0b0"/></g>
<text x="1069.7" y="781.9" font-family="'Liberation Serif', 'Times New Roman', serif" font-size="22" font-weight="bold" fill="#fff" textLength="23.5" lengthAdjust="spacingAndGlyphs">2P</text>
<text x="1136.2" y="781.9" font-family="'Liberation Serif', 'Times New Roman', serif" font-size="22" font-weight="bold" fill="#fff" textLength="22.5" lengthAdjust="spacingAndGlyphs">7P</text>
<line x1="1081" y1="800" x2="1083.5" y2="838" stroke="#000" stroke-width="2" opacity="0.45" filter="url(#bs)"/>
<path d="M842.5 862.6 L860.8 845.4 L860.8 855.1 L889.9 855.1 L889.9 871.2 L860.8 871.2 L860.8 880.9 Z" fill="none" stroke="#000" stroke-width="3.0" stroke-linejoin="miter"/>
<path d="M948 752.9 L966.2 770.1 L955.5 770.1 L955.5 808.8 L940.4 808.8 L940.4 770.1 L929.7 770.1 Z" fill="none" stroke="#000" stroke-width="3.0" stroke-linejoin="miter"/>
<path d="M1057.7 849.7 L1041.5 832.5 L1041.5 841.1 L1019.6 841.1 L1019.6 858.3 L1041.5 858.3 L1041.5 868 Z" fill="none" stroke="#000" stroke-width="3.0" stroke-linejoin="miter"/>
<rect x="895.6" y="835" width="26.6" height="70.3" fill="none" stroke="#f7922e" stroke-width="2.8"/>
<rect x="932.8" y="815" width="31" height="87.5" fill="none" stroke="#f7922e" stroke-width="2.8"/>
<rect x="979.5" y="804.9" width="27.9" height="89.7" fill="none" stroke="#f7922e" stroke-width="2.8"/>
<text x="905.5" y="965.9" font-family="'Liberation Serif', 'Times New Roman', serif" font-size="38" font-weight="normal" fill="#000" text-anchor="start" >I</text>
<text x="940" y="959.9" font-family="'Liberation Serif', 'Times New Roman', serif" font-size="38" font-weight="normal" fill="#000" text-anchor="start" >II</text>
<text x="982" y="937.5" font-family="'Liberation Serif', 'Times New Roman', serif" font-size="38" font-weight="normal" fill="#000" text-anchor="start" >III</text>
</svg></body></html>
